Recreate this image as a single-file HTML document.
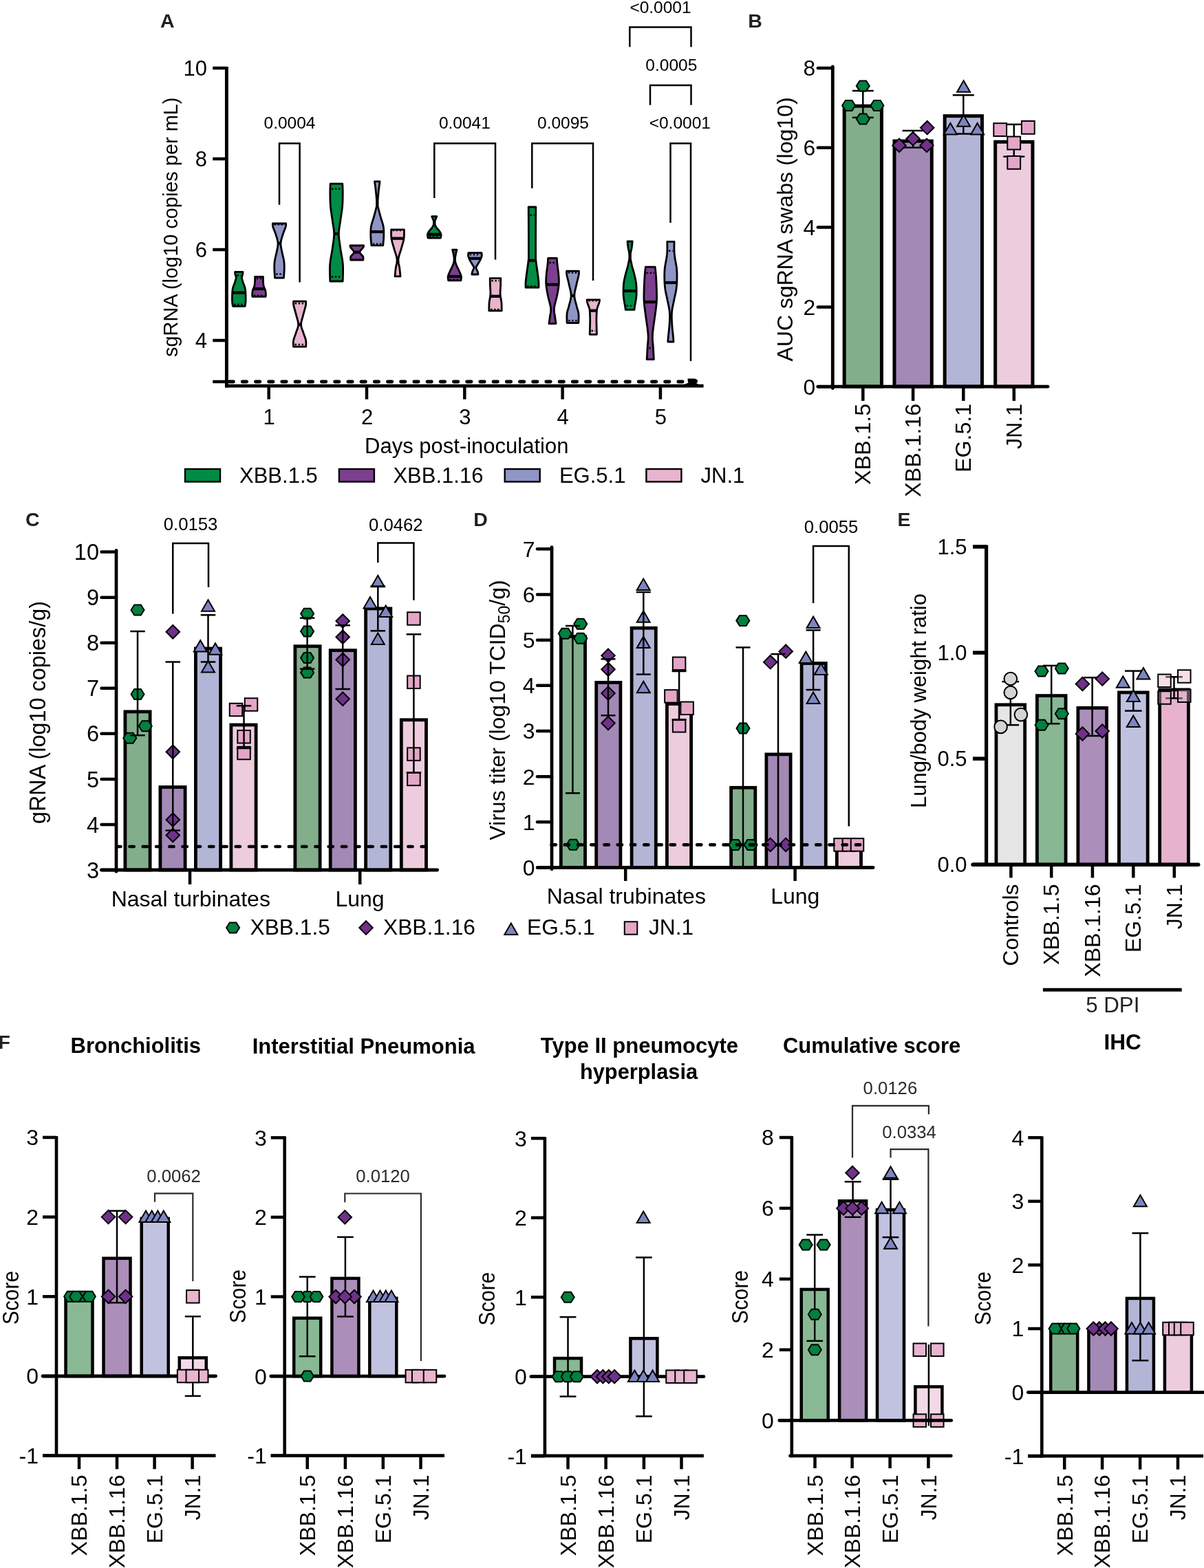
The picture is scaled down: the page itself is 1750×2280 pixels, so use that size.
<!DOCTYPE html>
<html><head><meta charset="utf-8"><title>Figure</title>
<style>html,body{margin:0;padding:0;background:#fff;} svg{display:block;} text{font-family:'Liberation Sans', Arial, Helvetica, sans-serif;}</style>
</head><body>
<svg width="1750" height="2280" viewBox="0 0 1750 2280">
<rect width="1750" height="2280" fill="#fff"/>
<text x="233" y="40" font-size="28.5" font-weight="bold" fill="#231f20">A</text>
<path d="M353,395.4 L352.98,395.67 L352.97,396.01 L352.95,396.42 L352.93,396.89 L352.89,397.39 L352.85,397.92 L352.78,398.46 L352.7,399 L352.57,399.54 L352.39,400.1 L352.18,400.68 L351.96,401.29 L351.76,401.92 L351.6,402.58 L351.51,403.27 L351.5,404 L351.59,404.78 L351.74,405.61 L351.96,406.48 L352.22,407.38 L352.51,408.29 L352.81,409.2 L353.11,410.11 L353.4,411 L353.69,411.88 L354.02,412.75 L354.36,413.62 L354.71,414.5 L355.05,415.38 L355.37,416.25 L355.66,417.12 L355.9,418 L356.1,418.83 L356.27,419.61 L356.42,420.36 L356.54,421.12 L356.65,421.94 L356.74,422.83 L356.82,423.84 L356.9,425 L356.97,426.38 L357.03,427.96 L357.09,429.69 L357.12,431.48 L357.15,433.28 L357.15,435.01 L357.14,436.61 L357.1,438 L357.03,439.24 L356.91,440.4 L356.77,441.48 L356.61,442.46 L356.45,443.35 L356.31,444.12 L356.19,444.78 L356.1,445.3 L338.5,445.3 L338.41,444.78 L338.29,444.12 L338.15,443.35 L337.99,442.46 L337.83,441.48 L337.69,440.4 L337.57,439.24 L337.5,438 L337.46,436.61 L337.45,435.01 L337.45,433.28 L337.48,431.48 L337.51,429.69 L337.57,427.96 L337.63,426.38 L337.7,425 L337.78,423.84 L337.86,422.83 L337.95,421.94 L338.06,421.12 L338.18,420.36 L338.33,419.61 L338.5,418.83 L338.7,418 L338.94,417.12 L339.23,416.25 L339.55,415.38 L339.89,414.5 L340.24,413.62 L340.58,412.75 L340.91,411.88 L341.2,411 L341.49,410.11 L341.79,409.2 L342.09,408.29 L342.38,407.38 L342.64,406.48 L342.86,405.61 L343.01,404.78 L343.1,404 L343.09,403.27 L343,402.58 L342.84,401.92 L342.64,401.29 L342.42,400.68 L342.21,400.1 L342.03,399.54 L341.9,399 L341.82,398.46 L341.75,397.92 L341.71,397.39 L341.68,396.89 L341.65,396.42 L341.63,396.01 L341.62,395.67 L341.6,395.4 Z" fill="#008c45" stroke="#000" stroke-width="2.8" stroke-linejoin="round"/>
<line x1="337.67" y1="425.6" x2="356.93" y2="425.6" stroke="#000" stroke-width="4.2"/>
<line x1="344.55" y1="400.5" x2="350.05" y2="400.5" stroke="#000" stroke-width="2.4" stroke-dasharray="2.4 2.6"/>
<line x1="340.23" y1="442.7" x2="354.37" y2="442.7" stroke="#000" stroke-width="2.4" stroke-dasharray="2.4 2.6"/>
<path d="M382.4,402.4 L382.4,403 L382.4,403.8 L382.4,404.76 L382.4,405.82 L382.41,406.93 L382.42,408.03 L382.45,409.07 L382.5,410 L382.56,410.83 L382.62,411.61 L382.68,412.37 L382.76,413.1 L382.86,413.82 L382.98,414.54 L383.12,415.26 L383.3,416 L383.53,416.75 L383.8,417.5 L384.12,418.25 L384.45,419 L384.78,419.75 L385.1,420.5 L385.37,421.25 L385.6,422 L385.78,422.77 L385.93,423.56 L386.06,424.37 L386.16,425.17 L386.25,425.95 L386.31,426.69 L386.36,427.38 L386.4,428 L386.41,428.56 L386.4,429.09 L386.35,429.58 L386.3,430.02 L386.24,430.42 L386.18,430.77 L386.13,431.06 L386.1,431.3 L366.9,431.3 L366.87,431.06 L366.82,430.77 L366.76,430.42 L366.7,430.02 L366.65,429.58 L366.6,429.09 L366.59,428.56 L366.6,428 L366.64,427.38 L366.69,426.69 L366.75,425.95 L366.84,425.17 L366.94,424.37 L367.07,423.56 L367.22,422.77 L367.4,422 L367.63,421.25 L367.9,420.5 L368.22,419.75 L368.55,419 L368.88,418.25 L369.2,417.5 L369.47,416.75 L369.7,416 L369.88,415.26 L370.02,414.54 L370.14,413.82 L370.24,413.1 L370.32,412.37 L370.38,411.61 L370.44,410.83 L370.5,410 L370.55,409.07 L370.58,408.03 L370.59,406.93 L370.6,405.82 L370.6,404.76 L370.6,403.8 L370.6,403 L370.6,402.4 Z" fill="#7b3f8e" stroke="#000" stroke-width="2.8" stroke-linejoin="round"/>
<line x1="368.11" y1="420" x2="384.89" y2="420" stroke="#000" stroke-width="4.2"/>
<line x1="372.8" y1="405" x2="380.2" y2="405" stroke="#000" stroke-width="2.4" stroke-dasharray="2.4 2.6"/>
<line x1="368.85" y1="429.6" x2="384.15" y2="429.6" stroke="#000" stroke-width="2.4" stroke-dasharray="2.4 2.6"/>
<path d="M415.6,325 L415.59,325.34 L415.61,325.76 L415.64,326.25 L415.66,326.81 L415.64,327.47 L415.57,328.21 L415.43,329.05 L415.2,330 L414.86,331.08 L414.41,332.29 L413.89,333.61 L413.32,335.01 L412.73,336.48 L412.14,337.98 L411.59,339.5 L411.1,341 L410.63,342.52 L410.14,344.09 L409.65,345.69 L409.18,347.33 L408.76,348.96 L408.41,350.6 L408.15,352.22 L408,353.8 L407.98,355.34 L408.08,356.85 L408.26,358.34 L408.52,359.83 L408.82,361.32 L409.15,362.84 L409.48,364.39 L409.8,366 L410.14,367.68 L410.53,369.42 L410.95,371.21 L411.39,373.01 L411.81,374.82 L412.2,376.6 L412.54,378.33 L412.8,380 L412.98,381.6 L413.11,383.14 L413.19,384.64 L413.24,386.12 L413.25,387.58 L413.25,389.04 L413.23,390.51 L413.2,392 L413.15,393.59 L413.07,395.3 L412.95,397.06 L412.82,398.8 L412.69,400.44 L412.57,401.92 L412.47,403.17 L412.4,404.1 L399.6,404.1 L399.53,403.17 L399.43,401.92 L399.31,400.44 L399.18,398.8 L399.05,397.06 L398.93,395.3 L398.85,393.59 L398.8,392 L398.77,390.51 L398.75,389.04 L398.75,387.58 L398.76,386.12 L398.81,384.64 L398.89,383.14 L399.02,381.6 L399.2,380 L399.46,378.33 L399.8,376.6 L400.19,374.82 L400.61,373.01 L401.05,371.21 L401.47,369.42 L401.86,367.68 L402.2,366 L402.52,364.39 L402.85,362.84 L403.18,361.32 L403.48,359.83 L403.74,358.34 L403.92,356.85 L404.02,355.34 L404,353.8 L403.85,352.22 L403.59,350.6 L403.24,348.96 L402.82,347.33 L402.35,345.69 L401.86,344.09 L401.37,342.52 L400.9,341 L400.41,339.5 L399.86,337.98 L399.27,336.48 L398.68,335.01 L398.11,333.61 L397.59,332.29 L397.14,331.08 L396.8,330 L396.57,329.05 L396.43,328.21 L396.36,327.47 L396.34,326.81 L396.36,326.25 L396.39,325.76 L396.41,325.34 L396.4,325 Z" fill="#8f95c5" stroke="#000" stroke-width="2.8" stroke-linejoin="round"/>
<line x1="404" y1="353.8" x2="408" y2="353.8" stroke="#000" stroke-width="4.2"/>
<line x1="398.55" y1="326.6" x2="413.45" y2="326.6" stroke="#000" stroke-width="2.4" stroke-dasharray="2.4 2.6"/>
<line x1="401.35" y1="398.5" x2="410.65" y2="398.5" stroke="#000" stroke-width="2.4" stroke-dasharray="2.4 2.6"/>
<path d="M444.5,438.1 L444.52,438.5 L444.57,438.97 L444.63,439.52 L444.68,440.17 L444.71,440.93 L444.68,441.82 L444.59,442.83 L444.4,444 L444.11,445.36 L443.71,446.93 L443.25,448.66 L442.74,450.5 L442.2,452.4 L441.67,454.32 L441.16,456.2 L440.7,458 L440.24,459.75 L439.73,461.52 L439.21,463.3 L438.71,465.07 L438.26,466.82 L437.9,468.55 L437.67,470.25 L437.6,471.9 L437.71,473.51 L437.99,475.08 L438.39,476.62 L438.88,478.13 L439.42,479.62 L439.98,481.09 L440.52,482.55 L441,484 L441.46,485.44 L441.97,486.87 L442.49,488.29 L443.01,489.69 L443.5,491.06 L443.94,492.41 L444.32,493.72 L444.6,495 L444.78,496.29 L444.87,497.62 L444.9,498.95 L444.88,500.24 L444.82,501.44 L444.76,502.51 L444.72,503.41 L444.7,504.1 L426.5,504.1 L426.48,503.41 L426.44,502.51 L426.38,501.44 L426.33,500.24 L426.3,498.95 L426.33,497.62 L426.42,496.29 L426.6,495 L426.88,493.72 L427.26,492.41 L427.7,491.06 L428.19,489.69 L428.71,488.29 L429.23,486.87 L429.74,485.44 L430.2,484 L430.68,482.55 L431.22,481.09 L431.78,479.62 L432.32,478.13 L432.81,476.62 L433.21,475.08 L433.49,473.51 L433.6,471.9 L433.53,470.25 L433.3,468.55 L432.94,466.82 L432.49,465.07 L431.99,463.3 L431.47,461.52 L430.96,459.75 L430.5,458 L430.04,456.2 L429.53,454.32 L429,452.4 L428.46,450.5 L427.95,448.66 L427.49,446.93 L427.09,445.36 L426.8,444 L426.61,442.83 L426.52,441.82 L426.49,440.93 L426.52,440.17 L426.57,439.52 L426.63,438.97 L426.68,438.5 L426.7,438.1 Z" fill="#e8b4d0" stroke="#000" stroke-width="2.8" stroke-linejoin="round"/>
<line x1="433.6" y1="471.9" x2="437.6" y2="471.9" stroke="#000" stroke-width="4.2"/>
<line x1="428.7" y1="441.2" x2="442.5" y2="441.2" stroke="#000" stroke-width="2.4" stroke-dasharray="2.4 2.6"/>
<line x1="428.56" y1="501" x2="442.64" y2="501" stroke="#000" stroke-width="2.4" stroke-dasharray="2.4 2.6"/>
<path d="M497.8,267.2 L497.84,268.14 L497.9,269.33 L497.96,270.75 L498.04,272.35 L498.11,274.11 L498.16,275.99 L498.2,277.97 L498.2,280 L498.19,282.14 L498.18,284.45 L498.15,286.88 L498.11,289.43 L498.04,292.04 L497.94,294.69 L497.8,297.36 L497.6,300 L497.33,302.68 L497,305.45 L496.62,308.28 L496.2,311.12 L495.77,313.96 L495.35,316.73 L494.95,319.43 L494.6,322 L494.26,324.43 L493.89,326.73 L493.52,328.96 L493.18,331.12 L492.87,333.28 L492.62,335.45 L492.46,337.68 L492.4,340 L492.45,342.37 L492.6,344.74 L492.83,347.13 L493.12,349.56 L493.46,352.05 L493.83,354.6 L494.22,357.25 L494.6,360 L495.03,362.89 L495.53,365.92 L496.08,369.05 L496.65,372.25 L497.2,375.48 L497.69,378.7 L498.11,381.89 L498.4,385 L498.57,388.21 L498.63,391.63 L498.61,395.13 L498.54,398.56 L498.44,401.8 L498.33,404.71 L498.24,407.16 L498.2,409 L479.8,409 L479.76,407.16 L479.67,404.71 L479.56,401.8 L479.46,398.56 L479.39,395.13 L479.37,391.63 L479.43,388.21 L479.6,385 L479.89,381.89 L480.31,378.7 L480.8,375.48 L481.35,372.25 L481.92,369.05 L482.47,365.92 L482.97,362.89 L483.4,360 L483.78,357.25 L484.17,354.6 L484.54,352.05 L484.88,349.56 L485.17,347.13 L485.4,344.74 L485.55,342.37 L485.6,340 L485.54,337.68 L485.38,335.45 L485.13,333.28 L484.82,331.12 L484.48,328.96 L484.11,326.73 L483.74,324.43 L483.4,322 L483.05,319.43 L482.65,316.73 L482.23,313.96 L481.8,311.12 L481.38,308.28 L481,305.45 L480.67,302.68 L480.4,300 L480.2,297.36 L480.06,294.69 L479.96,292.04 L479.89,289.43 L479.85,286.88 L479.82,284.45 L479.81,282.14 L479.8,280 L479.8,277.97 L479.84,275.99 L479.89,274.11 L479.96,272.35 L480.04,270.75 L480.1,269.33 L480.16,268.14 L480.2,267.2 Z" fill="#008c45" stroke="#000" stroke-width="2.8" stroke-linejoin="round"/>
<line x1="485.6" y1="340" x2="492.4" y2="340" stroke="#000" stroke-width="4.2"/>
<line x1="482.07" y1="274.8" x2="495.93" y2="274.8" stroke="#000" stroke-width="2.4" stroke-dasharray="2.4 2.6"/>
<line x1="481.79" y1="402.5" x2="496.21" y2="402.5" stroke="#000" stroke-width="2.4" stroke-dasharray="2.4 2.6"/>
<path d="M528.55,356.8 L528.52,357.02 L528.5,357.29 L528.48,357.61 L528.45,357.98 L528.38,358.4 L528.25,358.88 L528.05,359.41 L527.75,360 L527.28,360.67 L526.61,361.44 L525.83,362.27 L525.01,363.16 L524.24,364.06 L523.58,364.97 L523.13,365.86 L522.95,366.7 L523.11,367.51 L523.54,368.33 L524.18,369.14 L524.94,369.94 L525.73,370.74 L526.49,371.51 L527.12,372.27 L527.55,373 L527.79,373.74 L527.91,374.5 L527.96,375.26 L527.94,375.99 L527.88,376.68 L527.82,377.29 L527.76,377.81 L527.75,378.2 L509.75,378.2 L509.74,377.81 L509.68,377.29 L509.62,376.68 L509.56,375.99 L509.54,375.26 L509.59,374.5 L509.71,373.74 L509.95,373 L510.38,372.27 L511.01,371.51 L511.77,370.74 L512.56,369.94 L513.32,369.14 L513.96,368.33 L514.39,367.51 L514.55,366.7 L514.37,365.86 L513.92,364.97 L513.26,364.06 L512.49,363.16 L511.67,362.27 L510.89,361.44 L510.22,360.67 L509.75,360 L509.45,359.41 L509.25,358.88 L509.12,358.4 L509.05,357.98 L509.02,357.61 L509,357.29 L508.98,357.02 L508.95,356.8 Z" fill="#7b3f8e" stroke="#000" stroke-width="2.8" stroke-linejoin="round"/>
<line x1="514.55" y1="366.7" x2="522.95" y2="366.7" stroke="#000" stroke-width="4.2"/>
<line x1="511.21" y1="357.5" x2="526.29" y2="357.5" stroke="#000" stroke-width="2.4" stroke-dasharray="2.4 2.6"/>
<line x1="511.85" y1="377" x2="525.65" y2="377" stroke="#000" stroke-width="2.4" stroke-dasharray="2.4 2.6"/>
<path d="M552.1,263.9 L551.98,264.81 L551.81,265.98 L551.61,267.38 L551.39,268.95 L551.16,270.65 L550.92,272.42 L550.7,274.22 L550.5,276 L550.3,277.87 L550.1,279.91 L549.89,282.07 L549.69,284.26 L549.5,286.41 L549.33,288.47 L549.2,290.36 L549.1,292 L549.1,293.33 L549.1,294.4 L549.1,295.28 L549.1,296.06 L549.1,296.84 L549.1,297.7 L549.1,298.72 L549.3,300 L549.6,301.54 L549.99,303.26 L550.44,305.11 L550.95,307.06 L551.49,309.07 L552.04,311.09 L552.58,313.08 L553.1,315 L553.63,316.88 L554.21,318.75 L554.81,320.62 L555.41,322.5 L555.99,324.38 L556.51,326.25 L556.95,328.12 L557.3,330 L557.54,331.9 L557.7,333.82 L557.79,335.76 L557.82,337.69 L557.82,339.6 L557.79,341.47 L557.74,343.27 L557.7,345 L557.64,346.72 L557.52,348.47 L557.38,350.21 L557.22,351.89 L557.06,353.45 L556.91,354.83 L556.79,356 L556.7,356.9 L539.9,356.9 L539.81,356 L539.69,354.83 L539.54,353.45 L539.38,351.89 L539.22,350.21 L539.07,348.47 L538.96,346.72 L538.9,345 L538.86,343.27 L538.81,341.47 L538.78,339.6 L538.77,337.69 L538.81,335.76 L538.9,333.82 L539.06,331.9 L539.3,330 L539.65,328.12 L540.09,326.25 L540.61,324.38 L541.19,322.5 L541.79,320.62 L542.39,318.75 L542.97,316.88 L543.5,315 L544.02,313.08 L544.56,311.09 L545.11,309.07 L545.65,307.06 L546.16,305.11 L546.61,303.26 L547,301.54 L547.3,300 L547.5,298.72 L547.5,297.7 L547.5,296.84 L547.5,296.06 L547.5,295.28 L547.5,294.4 L547.5,293.33 L547.5,292 L547.4,290.36 L547.27,288.47 L547.1,286.41 L546.91,284.26 L546.71,282.07 L546.5,279.91 L546.3,277.87 L546.1,276 L545.9,274.22 L545.68,272.42 L545.44,270.65 L545.21,268.95 L544.99,267.38 L544.79,265.98 L544.62,264.81 L544.5,263.9 Z" fill="#8f95c5" stroke="#000" stroke-width="2.8" stroke-linejoin="round"/>
<line x1="538.79" y1="337" x2="557.81" y2="337" stroke="#000" stroke-width="4.2"/>
<line x1="541.86" y1="354.6" x2="554.74" y2="354.6" stroke="#000" stroke-width="2.4" stroke-dasharray="2.4 2.6"/>
<path d="M587.4,333.9 L587.39,334.9 L587.4,336.23 L587.42,337.81 L587.42,339.57 L587.4,341.45 L587.33,343.35 L587.21,345.23 L587,347 L586.71,348.69 L586.34,350.39 L585.92,352.1 L585.45,353.82 L584.95,355.56 L584.43,357.34 L583.91,359.15 L583.4,361 L582.85,362.92 L582.21,364.93 L581.54,366.99 L580.86,369.06 L580.23,371.13 L579.68,373.16 L579.26,375.13 L579,377 L578.93,378.78 L579.03,380.49 L579.25,382.14 L579.55,383.76 L579.9,385.34 L580.25,386.9 L580.56,388.45 L580.8,390 L580.99,391.62 L581.17,393.33 L581.35,395.07 L581.51,396.76 L581.66,398.36 L581.8,399.79 L581.91,400.99 L582,401.9 L574,401.9 L574.09,400.99 L574.2,399.79 L574.34,398.36 L574.49,396.76 L574.65,395.07 L574.83,393.33 L575.01,391.62 L575.2,390 L575.44,388.45 L575.75,386.9 L576.1,385.34 L576.45,383.76 L576.75,382.14 L576.97,380.49 L577.07,378.78 L577,377 L576.74,375.13 L576.32,373.16 L575.77,371.13 L575.14,369.06 L574.46,366.99 L573.79,364.93 L573.15,362.92 L572.6,361 L572.09,359.15 L571.57,357.34 L571.05,355.56 L570.55,353.82 L570.08,352.1 L569.66,350.39 L569.29,348.69 L569,347 L568.79,345.23 L568.67,343.35 L568.6,341.45 L568.58,339.57 L568.58,337.81 L568.6,336.23 L568.61,334.9 L568.6,333.9 Z" fill="#e8b4d0" stroke="#000" stroke-width="2.8" stroke-linejoin="round"/>
<line x1="568.97" y1="346.7" x2="587.03" y2="346.7" stroke="#000" stroke-width="4.2"/>
<line x1="570.81" y1="335" x2="585.19" y2="335" stroke="#000" stroke-width="2.4" stroke-dasharray="2.4 2.6"/>
<path d="M634.85,314.7 L634.71,315.03 L634.52,315.46 L634.3,315.97 L634.05,316.54 L633.79,317.15 L633.53,317.77 L633.28,318.4 L633.05,319 L632.81,319.58 L632.54,320.18 L632.26,320.78 L632.05,321.39 L632.05,322.02 L632.05,322.66 L632.05,323.32 L632.05,324 L632.05,324.7 L632.05,325.43 L632.05,326.18 L632.25,326.94 L632.6,327.71 L632.99,328.48 L633.41,329.24 L633.85,330 L634.35,330.76 L634.94,331.52 L635.58,332.29 L636.25,333.06 L636.92,333.82 L637.56,334.57 L638.15,335.3 L638.65,336 L639.09,336.67 L639.49,337.32 L639.86,337.94 L640.19,338.56 L640.48,339.16 L640.72,339.77 L640.91,340.38 L641.05,341 L641.11,341.67 L641.1,342.39 L641.02,343.13 L640.9,343.86 L640.76,344.56 L640.63,345.18 L640.52,345.71 L640.45,346.1 L622.05,346.1 L621.98,345.71 L621.87,345.18 L621.74,344.56 L621.6,343.86 L621.48,343.13 L621.4,342.39 L621.39,341.67 L621.45,341 L621.59,340.38 L621.78,339.77 L622.02,339.16 L622.31,338.56 L622.64,337.94 L623.01,337.32 L623.41,336.67 L623.85,336 L624.35,335.3 L624.94,334.57 L625.58,333.82 L626.25,333.06 L626.92,332.29 L627.56,331.52 L628.15,330.76 L628.65,330 L629.09,329.24 L629.51,328.48 L629.9,327.71 L630.25,326.94 L630.45,326.18 L630.45,325.43 L630.45,324.7 L630.45,324 L630.45,323.32 L630.45,322.66 L630.45,322.02 L630.45,321.39 L630.24,320.78 L629.96,320.18 L629.69,319.58 L629.45,319 L629.22,318.4 L628.97,317.77 L628.71,317.15 L628.45,316.54 L628.2,315.97 L627.98,315.46 L627.79,315.03 L627.65,314.7 Z" fill="#008c45" stroke="#000" stroke-width="2.8" stroke-linejoin="round"/>
<line x1="621.49" y1="340.8" x2="641.01" y2="340.8" stroke="#000" stroke-width="4.2"/>
<line x1="623.83" y1="344" x2="638.67" y2="344" stroke="#000" stroke-width="2.4" stroke-dasharray="2.4 2.6"/>
<path d="M664,363.1 L663.87,363.62 L663.7,364.31 L663.49,365.13 L663.26,366.05 L663.03,367.03 L662.8,368.04 L662.58,369.04 L662.4,370 L662.22,370.95 L662.03,371.92 L661.84,372.92 L661.66,373.93 L661.6,374.95 L661.6,375.97 L661.6,376.99 L661.6,378 L661.6,378.99 L661.68,379.98 L661.9,380.96 L662.17,381.94 L662.49,382.93 L662.83,383.93 L663.21,384.95 L663.6,386 L664.04,387.09 L664.55,388.23 L665.1,389.39 L665.67,390.56 L666.25,391.73 L666.82,392.87 L667.34,393.96 L667.8,395 L668.22,395.98 L668.64,396.92 L669.03,397.82 L669.39,398.7 L669.72,399.55 L670.01,400.38 L670.23,401.2 L670.4,402 L670.48,402.82 L670.48,403.67 L670.42,404.52 L670.31,405.34 L670.19,406.1 L670.06,406.79 L669.96,407.36 L669.9,407.8 L651.7,407.8 L651.64,407.36 L651.54,406.79 L651.41,406.1 L651.29,405.34 L651.18,404.52 L651.12,403.67 L651.12,402.82 L651.2,402 L651.37,401.2 L651.59,400.38 L651.88,399.55 L652.21,398.7 L652.57,397.82 L652.96,396.92 L653.38,395.98 L653.8,395 L654.26,393.96 L654.78,392.87 L655.35,391.73 L655.92,390.56 L656.5,389.39 L657.05,388.23 L657.56,387.09 L658,386 L658.39,384.95 L658.77,383.93 L659.11,382.93 L659.42,381.94 L659.7,380.96 L659.92,379.98 L660,378.99 L660,378 L660,376.99 L660,375.97 L660,374.95 L659.94,373.93 L659.76,372.92 L659.57,371.92 L659.38,370.95 L659.2,370 L659.02,369.04 L658.8,368.04 L658.57,367.03 L658.34,366.05 L658.11,365.13 L657.9,364.31 L657.73,363.62 L657.6,363.1 Z" fill="#7b3f8e" stroke="#000" stroke-width="2.8" stroke-linejoin="round"/>
<line x1="651.2" y1="402" x2="670.4" y2="402" stroke="#000" stroke-width="4.2"/>
<line x1="653.72" y1="406.7" x2="667.88" y2="406.7" stroke="#000" stroke-width="2.4" stroke-dasharray="2.4 2.6"/>
<path d="M700,367.65 L700.03,367.97 L700.09,368.39 L700.17,368.89 L700.24,369.45 L700.29,370.06 L700.31,370.69 L700.29,371.35 L700.2,372 L700.05,372.66 L699.86,373.36 L699.63,374.09 L699.36,374.83 L699.06,375.6 L698.73,376.39 L698.38,377.19 L698,378 L697.57,378.85 L697.08,379.75 L696.54,380.68 L695.99,381.62 L695.43,382.55 L694.9,383.44 L694.42,384.26 L694,385 L693.63,385.63 L693.26,386.16 L692.92,386.63 L692.61,387.06 L692.35,387.49 L692.16,387.93 L692.04,388.42 L692,389 L692.08,389.67 L692.29,390.41 L692.58,391.19 L692.92,392 L693.29,392.81 L693.65,393.59 L693.96,394.33 L694.2,395 L694.37,395.62 L694.52,396.23 L694.64,396.82 L694.74,397.38 L694.82,397.88 L694.89,398.33 L694.95,398.71 L695,399 L685.8,399 L685.85,398.71 L685.91,398.33 L685.98,397.88 L686.06,397.38 L686.16,396.82 L686.28,396.23 L686.43,395.62 L686.6,395 L686.84,394.33 L687.15,393.59 L687.51,392.81 L687.88,392 L688.22,391.19 L688.51,390.41 L688.72,389.67 L688.8,389 L688.76,388.42 L688.64,387.93 L688.45,387.49 L688.19,387.06 L687.88,386.63 L687.54,386.16 L687.17,385.63 L686.8,385 L686.38,384.26 L685.9,383.44 L685.37,382.55 L684.81,381.62 L684.26,380.68 L683.72,379.75 L683.23,378.85 L682.8,378 L682.42,377.19 L682.07,376.39 L681.74,375.6 L681.44,374.83 L681.17,374.09 L680.94,373.36 L680.75,372.66 L680.6,372 L680.51,371.35 L680.49,370.69 L680.51,370.06 L680.56,369.45 L680.63,368.89 L680.71,368.39 L680.77,367.97 L680.8,367.65 Z" fill="#8f95c5" stroke="#000" stroke-width="2.8" stroke-linejoin="round"/>
<line x1="681.82" y1="375.8" x2="698.98" y2="375.8" stroke="#000" stroke-width="4.2"/>
<line x1="682.7" y1="370.4" x2="698.1" y2="370.4" stroke="#000" stroke-width="2.4" stroke-dasharray="2.4 2.6"/>
<path d="M727.8,404.7 L727.79,405.5 L727.77,406.56 L727.75,407.82 L727.73,409.22 L727.71,410.71 L727.68,412.2 L727.64,413.66 L727.6,415 L727.55,416.29 L727.48,417.62 L727.4,418.96 L727.32,420.28 L727.24,421.57 L727.18,422.8 L727.13,423.95 L727.1,425 L727.09,425.9 L727.09,426.67 L727.1,427.33 L727.12,427.95 L727.16,428.56 L727.22,429.21 L727.3,429.94 L727.4,430.8 L727.54,431.77 L727.72,432.8 L727.93,433.88 L728.15,435.02 L728.37,436.2 L728.58,437.43 L728.76,438.7 L728.9,440 L729,441.44 L729.07,443.06 L729.11,444.79 L729.14,446.52 L729.16,448.19 L729.17,449.7 L729.19,450.96 L729.2,451.9 L710.8,451.9 L710.81,450.96 L710.83,449.7 L710.84,448.19 L710.86,446.52 L710.89,444.79 L710.93,443.06 L711,441.44 L711.1,440 L711.24,438.7 L711.42,437.43 L711.63,436.2 L711.85,435.02 L712.07,433.88 L712.28,432.8 L712.46,431.77 L712.6,430.8 L712.7,429.94 L712.78,429.21 L712.84,428.56 L712.88,427.95 L712.9,427.33 L712.91,426.67 L712.91,425.9 L712.9,425 L712.87,423.95 L712.82,422.8 L712.76,421.57 L712.68,420.28 L712.6,418.96 L712.52,417.62 L712.45,416.29 L712.4,415 L712.36,413.66 L712.32,412.2 L712.29,410.71 L712.27,409.22 L712.25,407.82 L712.23,406.56 L712.21,405.5 L712.2,404.7 Z" fill="#e8b4d0" stroke="#000" stroke-width="2.8" stroke-linejoin="round"/>
<line x1="712.6" y1="430.8" x2="727.4" y2="430.8" stroke="#000" stroke-width="4.2"/>
<line x1="714.45" y1="408.3" x2="725.55" y2="408.3" stroke="#000" stroke-width="2.4" stroke-dasharray="2.4 2.6"/>
<line x1="713.02" y1="450" x2="726.98" y2="450" stroke="#000" stroke-width="2.4" stroke-dasharray="2.4 2.6"/>
<path d="M778.8,301 L778.78,304.07 L778.76,308.22 L778.73,313.16 L778.7,318.62 L778.67,324.32 L778.64,329.97 L778.62,335.29 L778.6,340 L778.59,344.33 L778.58,348.63 L778.57,352.84 L778.57,356.89 L778.57,360.7 L778.57,364.2 L778.58,367.33 L778.6,370 L778.61,372.06 L778.61,373.52 L778.61,374.53 L778.61,375.26 L778.64,375.89 L778.68,376.58 L778.77,377.49 L778.9,378.8 L779.09,380.48 L779.33,382.36 L779.6,384.39 L779.91,386.51 L780.22,388.69 L780.53,390.86 L780.83,392.98 L781.1,395 L781.36,396.98 L781.62,398.99 L781.88,401.01 L782.14,403 L782.37,404.93 L782.59,406.76 L782.76,408.46 L782.9,410 L782.99,411.41 L783.03,412.72 L783.03,413.93 L783.01,415.04 L782.98,416.02 L782.94,416.89 L782.91,417.61 L782.9,418.2 L764.1,418.2 L764.09,417.61 L764.06,416.89 L764.02,416.02 L763.99,415.04 L763.97,413.93 L763.97,412.72 L764.01,411.41 L764.1,410 L764.24,408.46 L764.41,406.76 L764.63,404.93 L764.86,403 L765.12,401.01 L765.38,398.99 L765.64,396.98 L765.9,395 L766.17,392.98 L766.47,390.86 L766.78,388.69 L767.09,386.51 L767.4,384.39 L767.67,382.36 L767.91,380.48 L768.1,378.8 L768.23,377.49 L768.32,376.58 L768.36,375.89 L768.39,375.26 L768.39,374.53 L768.39,373.52 L768.39,372.06 L768.4,370 L768.42,367.33 L768.43,364.2 L768.43,360.7 L768.43,356.89 L768.43,352.84 L768.42,348.63 L768.41,344.33 L768.4,340 L768.38,335.29 L768.36,329.97 L768.33,324.32 L768.3,318.62 L768.27,313.16 L768.24,308.22 L768.22,304.07 L768.2,301 Z" fill="#008c45" stroke="#000" stroke-width="2.8" stroke-linejoin="round"/>
<line x1="768.1" y1="378.8" x2="778.9" y2="378.8" stroke="#000" stroke-width="4.2"/>
<line x1="770.47" y1="312.7" x2="776.53" y2="312.7" stroke="#000" stroke-width="2.4" stroke-dasharray="2.4 2.6"/>
<line x1="766.23" y1="416.2" x2="780.77" y2="416.2" stroke="#000" stroke-width="2.4" stroke-dasharray="2.4 2.6"/>
<path d="M809.3,375.4 L809.36,376.19 L809.44,377.22 L809.54,378.45 L809.64,379.82 L809.76,381.31 L809.9,382.86 L810.04,384.44 L810.2,386 L810.38,387.59 L810.6,389.27 L810.84,391.01 L811.09,392.8 L811.33,394.62 L811.55,396.43 L811.75,398.24 L811.9,400 L812.02,401.72 L812.14,403.41 L812.24,405.08 L812.32,406.76 L812.36,408.46 L812.36,410.19 L812.31,411.96 L812.2,413.8 L812.02,415.7 L811.79,417.63 L811.51,419.61 L811.18,421.62 L810.82,423.67 L810.43,425.75 L810.02,427.86 L809.6,430 L809.11,432.23 L808.54,434.58 L807.9,437 L807.26,439.43 L806.65,441.83 L806.11,444.14 L805.68,446.31 L805.4,448.3 L805.29,450.09 L805.31,451.72 L805.44,453.22 L805.64,454.64 L805.89,455.99 L806.15,457.31 L806.4,458.64 L806.6,460 L806.78,461.44 L806.99,462.96 L807.21,464.49 L807.42,465.98 L807.63,467.38 L807.82,468.64 L807.98,469.7 L808.1,470.5 L797.9,470.5 L798.02,469.7 L798.18,468.64 L798.37,467.38 L798.58,465.98 L798.79,464.49 L799.01,462.96 L799.22,461.44 L799.4,460 L799.6,458.64 L799.85,457.31 L800.11,455.99 L800.36,454.64 L800.56,453.22 L800.69,451.72 L800.71,450.09 L800.6,448.3 L800.32,446.31 L799.89,444.14 L799.35,441.83 L798.74,439.43 L798.1,437 L797.46,434.58 L796.89,432.23 L796.4,430 L795.98,427.86 L795.57,425.75 L795.18,423.67 L794.82,421.62 L794.49,419.61 L794.21,417.63 L793.98,415.7 L793.8,413.8 L793.69,411.96 L793.64,410.19 L793.64,408.46 L793.68,406.76 L793.76,405.08 L793.86,403.41 L793.98,401.72 L794.1,400 L794.25,398.24 L794.45,396.43 L794.67,394.62 L794.91,392.8 L795.16,391.01 L795.4,389.27 L795.62,387.59 L795.8,386 L795.96,384.44 L796.1,382.86 L796.24,381.31 L796.36,379.82 L796.46,378.45 L796.56,377.22 L796.64,376.19 L796.7,375.4 Z" fill="#7b3f8e" stroke="#000" stroke-width="2.8" stroke-linejoin="round"/>
<line x1="793.8" y1="413.8" x2="812.2" y2="413.8" stroke="#000" stroke-width="4.2"/>
<line x1="798.38" y1="382" x2="807.62" y2="382" stroke="#000" stroke-width="2.4" stroke-dasharray="2.4 2.6"/>
<path d="M841.4,394.1 L841.4,394.49 L841.42,394.95 L841.45,395.48 L841.47,396.11 L841.46,396.86 L841.41,397.75 L841.29,398.79 L841.1,400 L840.81,401.44 L840.43,403.11 L839.99,404.96 L839.5,406.93 L838.99,408.98 L838.49,411.04 L838.02,413.06 L837.6,415 L837.18,416.88 L836.73,418.75 L836.27,420.62 L835.83,422.5 L835.45,424.38 L835.14,426.25 L834.95,428.12 L834.9,430 L835.02,431.9 L835.29,433.84 L835.69,435.8 L836.16,437.75 L836.67,439.67 L837.19,441.53 L837.68,443.32 L838.1,445 L838.49,446.55 L838.89,447.97 L839.3,449.31 L839.7,450.59 L840.07,451.87 L840.41,453.17 L840.69,454.53 L840.9,456 L841.03,457.66 L841.1,459.52 L841.11,461.47 L841.08,463.44 L841.02,465.32 L840.97,467.02 L840.92,468.44 L840.9,469.5 L824.1,469.5 L824.08,468.44 L824.03,467.02 L823.98,465.32 L823.92,463.44 L823.89,461.47 L823.9,459.52 L823.97,457.66 L824.1,456 L824.31,454.53 L824.59,453.17 L824.93,451.87 L825.3,450.59 L825.7,449.31 L826.11,447.97 L826.51,446.55 L826.9,445 L827.32,443.32 L827.81,441.53 L828.33,439.67 L828.84,437.75 L829.31,435.8 L829.71,433.84 L829.98,431.9 L830.1,430 L830.05,428.12 L829.86,426.25 L829.55,424.38 L829.17,422.5 L828.73,420.62 L828.27,418.75 L827.82,416.88 L827.4,415 L826.98,413.06 L826.51,411.04 L826.01,408.98 L825.5,406.93 L825.01,404.96 L824.57,403.11 L824.19,401.44 L823.9,400 L823.71,398.79 L823.59,397.75 L823.54,396.86 L823.53,396.11 L823.55,395.48 L823.58,394.95 L823.6,394.49 L823.6,394.1 Z" fill="#8f95c5" stroke="#000" stroke-width="2.8" stroke-linejoin="round"/>
<line x1="830.1" y1="430" x2="834.9" y2="430" stroke="#000" stroke-width="4.2"/>
<line x1="825.74" y1="396.5" x2="839.26" y2="396.5" stroke="#000" stroke-width="2.4" stroke-dasharray="2.4 2.6"/>
<line x1="826.2" y1="466.1" x2="838.8" y2="466.1" stroke="#000" stroke-width="2.4" stroke-dasharray="2.4 2.6"/>
<path d="M871.5,435.8 L871.47,436.1 L871.44,436.49 L871.4,436.94 L871.36,437.46 L871.29,438.04 L871.2,438.65 L871.07,439.31 L870.9,440 L870.67,440.76 L870.37,441.61 L870.04,442.52 L869.67,443.47 L869.31,444.42 L868.96,445.35 L868.65,446.22 L868.4,447 L868.2,447.64 L868.03,448.14 L867.89,448.55 L867.77,448.96 L867.67,449.41 L867.58,449.97 L867.49,450.72 L867.4,451.7 L867.31,452.97 L867.22,454.5 L867.15,456.2 L867.07,458.02 L867.01,459.88 L866.96,461.71 L866.93,463.44 L866.9,465 L866.89,466.4 L866.9,467.7 L866.92,468.93 L866.95,470.12 L866.99,471.3 L867.03,472.49 L867.07,473.71 L867.1,475 L867.13,476.43 L867.17,478 L867.22,479.64 L867.26,481.27 L867.31,482.83 L867.34,484.24 L867.38,485.42 L867.4,486.3 L857.2,486.3 L857.22,485.42 L857.26,484.24 L857.29,482.83 L857.34,481.27 L857.38,479.64 L857.42,478 L857.47,476.43 L857.5,475 L857.53,473.71 L857.57,472.49 L857.61,471.3 L857.65,470.12 L857.68,468.93 L857.7,467.7 L857.71,466.4 L857.7,465 L857.67,463.44 L857.64,461.71 L857.59,459.88 L857.52,458.02 L857.45,456.2 L857.38,454.5 L857.29,452.97 L857.2,451.7 L857.11,450.72 L857.02,449.97 L856.93,449.41 L856.82,448.96 L856.71,448.55 L856.57,448.14 L856.4,447.64 L856.2,447 L855.95,446.22 L855.64,445.35 L855.29,444.42 L854.92,443.47 L854.56,442.52 L854.23,441.61 L853.93,440.76 L853.7,440 L853.53,439.31 L853.4,438.65 L853.31,438.04 L853.24,437.46 L853.2,436.94 L853.16,436.49 L853.13,436.1 L853.1,435.8 Z" fill="#e8b4d0" stroke="#000" stroke-width="2.8" stroke-linejoin="round"/>
<line x1="857.2" y1="451.7" x2="867.4" y2="451.7" stroke="#000" stroke-width="4.2"/>
<line x1="855.43" y1="437.3" x2="869.17" y2="437.3" stroke="#000" stroke-width="2.4" stroke-dasharray="2.4 2.6"/>
<line x1="859.54" y1="481" x2="865.06" y2="481" stroke="#000" stroke-width="2.4" stroke-dasharray="2.4 2.6"/>
<path d="M919.2,351 L919.13,351.67 L919.04,352.55 L918.94,353.58 L918.83,354.75 L918.69,356.01 L918.54,357.33 L918.38,358.67 L918.2,360 L917.97,361.35 L917.68,362.77 L917.35,364.24 L917.01,365.75 L916.7,367.29 L916.44,368.86 L916.4,370.43 L916.4,372 L916.4,373.56 L916.4,375.13 L916.57,376.71 L916.83,378.31 L917.13,379.93 L917.47,381.59 L917.83,383.27 L918.2,385 L918.61,386.79 L919.09,388.66 L919.62,390.57 L920.17,392.5 L920.72,394.43 L921.26,396.34 L921.76,398.21 L922.2,400 L922.6,401.69 L922.98,403.3 L923.34,404.85 L923.68,406.38 L923.99,407.92 L924.26,409.52 L924.5,411.2 L924.7,413 L924.86,414.95 L924.99,417.02 L925.09,419.17 L925.15,421.38 L925.17,423.6 L925.16,425.8 L925.1,427.94 L925,430 L924.83,432.04 L924.57,434.12 L924.26,436.2 L923.91,438.23 L923.56,440.17 L923.22,441.98 L922.93,443.6 L922.7,445 L922.53,446.16 L922.4,447.13 L922.29,447.93 L922.21,448.59 L922.14,449.13 L922.09,449.57 L922.04,449.96 L922,450.3 L909.2,450.3 L909.16,449.96 L909.11,449.57 L909.06,449.13 L908.99,448.59 L908.91,447.93 L908.8,447.13 L908.67,446.16 L908.5,445 L908.27,443.6 L907.98,441.98 L907.64,440.17 L907.29,438.23 L906.94,436.2 L906.63,434.12 L906.37,432.04 L906.2,430 L906.1,427.94 L906.04,425.8 L906.03,423.6 L906.05,421.38 L906.11,419.17 L906.21,417.02 L906.34,414.95 L906.5,413 L906.7,411.2 L906.94,409.52 L907.21,407.92 L907.52,406.38 L907.86,404.85 L908.22,403.3 L908.6,401.69 L909,400 L909.44,398.21 L909.94,396.34 L910.48,394.43 L911.03,392.5 L911.58,390.57 L912.11,388.66 L912.59,386.79 L913,385 L913.37,383.27 L913.73,381.59 L914.07,379.93 L914.38,378.31 L914.63,376.71 L914.8,375.13 L914.8,373.56 L914.8,372 L914.8,370.43 L914.76,368.86 L914.5,367.29 L914.19,365.75 L913.85,364.24 L913.52,362.77 L913.23,361.35 L913,360 L912.82,358.67 L912.66,357.33 L912.51,356.01 L912.38,354.75 L912.26,353.58 L912.16,352.55 L912.07,351.67 L912,351 Z" fill="#008c45" stroke="#000" stroke-width="2.8" stroke-linejoin="round"/>
<line x1="906.03" y1="423" x2="925.17" y2="423" stroke="#000" stroke-width="4.2"/>
<line x1="910.63" y1="444.6" x2="920.57" y2="444.6" stroke="#000" stroke-width="2.4" stroke-dasharray="2.4 2.6"/>
<path d="M952.15,388.2 L952.24,389.05 L952.37,390.13 L952.52,391.4 L952.69,392.85 L952.86,394.46 L953.04,396.2 L953.2,398.05 L953.35,400 L953.49,402.11 L953.64,404.44 L953.78,406.94 L953.92,409.54 L954.06,412.21 L954.17,414.87 L954.27,417.49 L954.35,420 L954.41,422.42 L954.48,424.8 L954.53,427.15 L954.57,429.49 L954.58,431.85 L954.55,434.22 L954.48,436.63 L954.35,439.1 L954.16,441.65 L953.9,444.27 L953.6,446.93 L953.26,449.62 L952.9,452.3 L952.53,454.94 L952.18,457.51 L951.85,460 L951.53,462.42 L951.19,464.82 L950.85,467.19 L950.51,469.5 L950.18,471.75 L949.87,473.93 L949.59,476.01 L949.35,478 L949.14,479.85 L948.95,481.56 L948.78,483.16 L948.63,484.69 L948.51,486.2 L948.42,487.71 L948.37,489.26 L948.35,490.9 L948.38,492.58 L948.46,494.26 L948.58,495.95 L948.73,497.66 L948.89,499.4 L949.05,501.2 L949.21,503.06 L949.35,505 L949.48,507.15 L949.62,509.57 L949.77,512.12 L949.91,514.68 L950.05,517.14 L950.17,519.36 L950.27,521.22 L950.35,522.6 L940.15,522.6 L940.23,521.22 L940.33,519.36 L940.45,517.14 L940.59,514.68 L940.73,512.12 L940.88,509.57 L941.02,507.15 L941.15,505 L941.29,503.06 L941.45,501.2 L941.61,499.4 L941.77,497.66 L941.92,495.95 L942.04,494.26 L942.12,492.58 L942.15,490.9 L942.13,489.26 L942.08,487.71 L941.99,486.2 L941.87,484.69 L941.72,483.16 L941.55,481.56 L941.36,479.85 L941.15,478 L940.91,476.01 L940.63,473.93 L940.32,471.75 L939.99,469.5 L939.65,467.19 L939.31,464.82 L938.97,462.42 L938.65,460 L938.32,457.51 L937.97,454.94 L937.6,452.3 L937.24,449.62 L936.9,446.93 L936.6,444.27 L936.34,441.65 L936.15,439.1 L936.02,436.63 L935.95,434.22 L935.92,431.85 L935.93,429.49 L935.97,427.15 L936.02,424.8 L936.09,422.42 L936.15,420 L936.23,417.49 L936.33,414.87 L936.44,412.21 L936.58,409.54 L936.72,406.94 L936.86,404.44 L937.01,402.11 L937.15,400 L937.3,398.05 L937.46,396.2 L937.64,394.46 L937.81,392.85 L937.98,391.4 L938.13,390.13 L938.26,389.05 L938.35,388.2 Z" fill="#7b3f8e" stroke="#000" stroke-width="2.8" stroke-linejoin="round"/>
<line x1="936.15" y1="439.1" x2="954.35" y2="439.1" stroke="#000" stroke-width="4.2"/>
<line x1="939.6" y1="396.9" x2="950.9" y2="396.9" stroke="#000" stroke-width="2.4" stroke-dasharray="2.4 2.6"/>
<line x1="943.29" y1="506" x2="947.21" y2="506" stroke="#000" stroke-width="2.4" stroke-dasharray="2.4 2.6"/>
<path d="M980,351.4 L979.99,352.47 L979.98,353.93 L979.96,355.66 L979.94,357.57 L979.93,359.57 L979.93,361.53 L979.95,363.38 L980,365 L980.07,366.39 L980.14,367.64 L980.24,368.79 L980.34,369.91 L980.47,371.04 L980.62,372.23 L980.8,373.54 L981,375 L981.25,376.64 L981.57,378.4 L981.92,380.26 L982.28,382.19 L982.64,384.16 L982.98,386.13 L983.27,388.09 L983.5,390 L983.67,391.88 L983.8,393.75 L983.9,395.62 L983.97,397.5 L984.01,399.38 L984.03,401.25 L984.02,403.12 L984,405 L983.96,406.88 L983.9,408.75 L983.82,410.62 L983.72,412.5 L983.59,414.38 L983.43,416.25 L983.23,418.12 L983,420 L982.72,421.88 L982.39,423.75 L982.02,425.62 L981.62,427.5 L981.21,429.38 L980.8,431.25 L980.39,433.12 L980,435 L979.61,436.9 L979.2,438.85 L978.77,440.81 L978.36,442.77 L977.96,444.69 L977.59,446.55 L977.26,448.33 L977,450 L976.79,451.52 L976.63,452.89 L976.51,454.17 L976.42,455.39 L976.36,456.61 L976.32,457.87 L976.3,459.22 L976.3,460.7 L976.32,462.31 L976.36,464.01 L976.42,465.77 L976.51,467.58 L976.62,469.43 L976.74,471.29 L976.86,473.15 L977,475 L977.16,476.9 L977.34,478.89 L977.55,480.93 L977.76,482.96 L977.98,484.93 L978.18,486.8 L978.35,488.5 L978.5,490 L978.61,491.31 L978.71,492.48 L978.78,493.52 L978.84,494.44 L978.89,495.24 L978.93,495.93 L978.97,496.51 L979,497 L970.8,497 L970.83,496.51 L970.87,495.93 L970.91,495.24 L970.96,494.44 L971.02,493.52 L971.09,492.48 L971.19,491.31 L971.3,490 L971.45,488.5 L971.62,486.8 L971.82,484.93 L972.04,482.96 L972.25,480.93 L972.46,478.89 L972.64,476.9 L972.8,475 L972.94,473.15 L973.06,471.29 L973.18,469.43 L973.29,467.58 L973.38,465.77 L973.44,464.01 L973.48,462.31 L973.5,460.7 L973.5,459.22 L973.48,457.87 L973.44,456.61 L973.38,455.39 L973.29,454.17 L973.17,452.89 L973.01,451.52 L972.8,450 L972.54,448.33 L972.21,446.55 L971.84,444.69 L971.44,442.77 L971.03,440.81 L970.6,438.85 L970.19,436.9 L969.8,435 L969.41,433.12 L969,431.25 L968.59,429.38 L968.17,427.5 L967.78,425.62 L967.41,423.75 L967.08,421.88 L966.8,420 L966.57,418.12 L966.37,416.25 L966.21,414.38 L966.08,412.5 L965.98,410.62 L965.9,408.75 L965.84,406.88 L965.8,405 L965.78,403.12 L965.77,401.25 L965.79,399.38 L965.83,397.5 L965.9,395.62 L966,393.75 L966.13,391.88 L966.3,390 L966.53,388.09 L966.82,386.13 L967.16,384.16 L967.52,382.19 L967.88,380.26 L968.23,378.4 L968.55,376.64 L968.8,375 L969,373.54 L969.18,372.23 L969.33,371.04 L969.46,369.91 L969.56,368.79 L969.66,367.64 L969.73,366.39 L969.8,365 L969.85,363.38 L969.87,361.53 L969.87,359.57 L969.86,357.57 L969.84,355.66 L969.82,353.93 L969.81,352.47 L969.8,351.4 Z" fill="#8f95c5" stroke="#000" stroke-width="2.8" stroke-linejoin="round"/>
<line x1="966" y1="411" x2="983.8" y2="411" stroke="#000" stroke-width="4.2"/>
<line x1="972.01" y1="364.7" x2="977.79" y2="364.7" stroke="#000" stroke-width="2.4" stroke-dasharray="2.4 2.6"/>
<path d="M999.6,550.4 L1009,550.4 Q1014.3,551.3 1014.2,554.6 Q1013.8,556.8 1012,557.2 Q1014.5,558.2 1016,559.6 L993,559.6 Q997.5,557.6 1000.6,556.4 Q999.4,555 999.6,552.6 Z" fill="#000"/>
<line x1="333" y1="555" x2="1000" y2="555" stroke="#000" stroke-width="4.8" stroke-linecap="round" stroke-dasharray="6.4 12.8"/>
<line x1="329.4" y1="97" x2="329.4" y2="563.5" stroke="#000" stroke-width="4.9"/>
<line x1="328" y1="561.2" x2="1022.6" y2="561.2" stroke="#000" stroke-width="4.8"/>
<line x1="309.2" y1="99" x2="329.4" y2="99" stroke="#000" stroke-width="4.5"/>
<text x="300.9" y="110.1" font-size="31" text-anchor="end">10</text>
<line x1="309.2" y1="231" x2="329.4" y2="231" stroke="#000" stroke-width="4.5"/>
<text x="300.9" y="242.1" font-size="31" text-anchor="end">8</text>
<line x1="309.2" y1="363" x2="329.4" y2="363" stroke="#000" stroke-width="4.5"/>
<text x="300.9" y="374.1" font-size="31" text-anchor="end">6</text>
<line x1="309.2" y1="495" x2="329.4" y2="495" stroke="#000" stroke-width="4.5"/>
<text x="300.9" y="506.1" font-size="31" text-anchor="end">4</text>
<line x1="309.2" y1="555" x2="329.4" y2="555" stroke="#000" stroke-width="4.5"/>
<line x1="390.7" y1="561" x2="390.7" y2="580.6" stroke="#000" stroke-width="4.5"/>
<text x="391.2" y="617" font-size="31" text-anchor="middle">1</text>
<line x1="533" y1="561" x2="533" y2="580.6" stroke="#000" stroke-width="4.5"/>
<text x="533.5" y="617" font-size="31" text-anchor="middle">2</text>
<line x1="675.3" y1="561" x2="675.3" y2="580.6" stroke="#000" stroke-width="4.5"/>
<text x="675.8" y="617" font-size="31" text-anchor="middle">3</text>
<line x1="817.6" y1="561" x2="817.6" y2="580.6" stroke="#000" stroke-width="4.5"/>
<text x="818.1" y="617" font-size="31" text-anchor="middle">4</text>
<line x1="959.9" y1="561" x2="959.9" y2="580.6" stroke="#000" stroke-width="4.5"/>
<text x="960.4" y="617" font-size="31" text-anchor="middle">5</text>
<text x="530" y="659.4" font-size="31">Days post-inoculation</text>
<text x="0" y="0" font-size="28.9" text-anchor="middle" transform="translate(258,330.3) rotate(-90)">sgRNA (log10 copies per mL)</text>
<polyline points="406,297.8 406,208.4 435.6,208.4 435.6,410.6" fill="none" stroke="#000" stroke-width="2.5" stroke-linejoin="miter"/>
<text x="421" y="186.7" font-size="24.5" text-anchor="middle">0.0004</text>
<polyline points="631.3,288 631.3,208.4 720,208.4 720,377.5" fill="none" stroke="#000" stroke-width="2.5" stroke-linejoin="miter"/>
<text x="675.4" y="186.7" font-size="24.5" text-anchor="middle">0.0041</text>
<polyline points="773.3,273.8 773.3,208.4 862,208.4 862,408" fill="none" stroke="#000" stroke-width="2.5" stroke-linejoin="miter"/>
<text x="818.5" y="186.7" font-size="24.5" text-anchor="middle">0.0095</text>
<polyline points="974.5,324 974.5,208.4 1004,208.4 1004,525" fill="none" stroke="#000" stroke-width="2.5" stroke-linejoin="miter"/>
<text x="988.3" y="186.7" font-size="24.5" text-anchor="middle">&lt;0.0001</text>
<polyline points="945,152.7 945,124 1004.5,124 1004.5,152.7" fill="none" stroke="#000" stroke-width="2.5" stroke-linejoin="miter"/>
<text x="975.8" y="102.6" font-size="24.5" text-anchor="middle">0.0005</text>
<polyline points="915.3,68.3 915.3,39.6 1004.5,39.6 1004.5,68.3" fill="none" stroke="#000" stroke-width="2.5" stroke-linejoin="miter"/>
<text x="960" y="19.3" font-size="24.5" text-anchor="middle">&lt;0.0001</text>
<rect x="269" y="682" width="51" height="18.5" fill="#008c45" stroke="#000" stroke-width="2.4"/>
<text x="348" y="701.7" font-size="31">XBB.1.5</text>
<rect x="492.9" y="682" width="51" height="18.5" fill="#7b3f8e" stroke="#000" stroke-width="2.4"/>
<text x="571.4" y="701.7" font-size="31">XBB.1.16</text>
<rect x="733.7" y="682" width="51" height="18.5" fill="#8f95c5" stroke="#000" stroke-width="2.4"/>
<text x="812.9" y="701.7" font-size="31">EG.5.1</text>
<rect x="939.4" y="682" width="51" height="18.5" fill="#e8b4d0" stroke="#000" stroke-width="2.4"/>
<text x="1018.6" y="701.7" font-size="31">JN.1</text>
<text x="1087.3" y="39.6" font-size="28.5" font-weight="bold" fill="#231f20">B</text>
<rect x="1227.15" y="154.19" width="54.3" height="407.81" fill="#83ae8c" stroke="#000" stroke-width="5"/>
<rect x="1299.95" y="205.14" width="54.3" height="356.86" fill="#a389b6" stroke="#000" stroke-width="5"/>
<rect x="1373.15" y="168.66" width="54.3" height="393.34" fill="#b3b5d6" stroke="#000" stroke-width="5"/>
<rect x="1446.65" y="206.3" width="54.3" height="355.7" fill="#edccde" stroke="#000" stroke-width="5"/>
<line x1="1254.3" y1="132" x2="1254.3" y2="170.9" stroke="#000" stroke-width="2.5"/>
<line x1="1238.8" y1="132" x2="1269.8" y2="132" stroke="#000" stroke-width="2.5"/>
<line x1="1238.8" y1="170.9" x2="1269.8" y2="170.9" stroke="#000" stroke-width="2.5"/>
<line x1="1327.1" y1="190" x2="1327.1" y2="214.6" stroke="#000" stroke-width="2.5"/>
<line x1="1311.6" y1="190" x2="1342.6" y2="190" stroke="#000" stroke-width="2.5"/>
<line x1="1311.6" y1="214.6" x2="1342.6" y2="214.6" stroke="#000" stroke-width="2.5"/>
<line x1="1400.3" y1="138.3" x2="1400.3" y2="194.6" stroke="#000" stroke-width="2.5"/>
<line x1="1384.8" y1="138.3" x2="1415.8" y2="138.3" stroke="#000" stroke-width="2.5"/>
<line x1="1384.8" y1="194.6" x2="1415.8" y2="194.6" stroke="#000" stroke-width="2.5"/>
<line x1="1473.8" y1="180.9" x2="1473.8" y2="227.7" stroke="#000" stroke-width="2.5"/>
<line x1="1458.3" y1="180.9" x2="1489.3" y2="180.9" stroke="#000" stroke-width="2.5"/>
<line x1="1458.3" y1="227.7" x2="1489.3" y2="227.7" stroke="#000" stroke-width="2.5"/>
<polygon points="1244.8,124.9 1249.55,117.4 1259.05,117.4 1263.8,124.9 1259.05,132.4 1249.55,132.4" fill="#00813f" stroke="#000" stroke-width="2" stroke-linejoin="miter"/>
<polygon points="1224.2,153.4 1228.95,145.9 1238.45,145.9 1243.2,153.4 1238.45,160.9 1228.95,160.9" fill="#00813f" stroke="#000" stroke-width="2" stroke-linejoin="miter"/>
<polygon points="1265.4,153.4 1270.15,145.9 1279.65,145.9 1284.4,153.4 1279.65,160.9 1270.15,160.9" fill="#00813f" stroke="#000" stroke-width="2" stroke-linejoin="miter"/>
<polygon points="1244.8,172.9 1249.55,165.4 1259.05,165.4 1263.8,172.9 1259.05,180.4 1249.55,180.4" fill="#00813f" stroke="#000" stroke-width="2" stroke-linejoin="miter"/>
<polygon points="1347.7,175.95 1357.45,185.7 1347.7,195.45 1337.95,185.7" fill="#6f3189" stroke="#000" stroke-width="2" stroke-linejoin="miter"/>
<polygon points="1327,191.95 1336.75,201.7 1327,211.45 1317.25,201.7" fill="#6f3189" stroke="#000" stroke-width="2" stroke-linejoin="miter"/>
<polygon points="1307,201.65 1316.75,211.4 1307,221.15 1297.25,211.4" fill="#6f3189" stroke="#000" stroke-width="2" stroke-linejoin="miter"/>
<polygon points="1347,201.65 1356.75,211.4 1347,221.15 1337.25,211.4" fill="#6f3189" stroke="#000" stroke-width="2" stroke-linejoin="miter"/>
<polygon points="1400.6,117.3 1410.1,133.8 1391.1,133.8" fill="#7e85bf" stroke="#000" stroke-width="2" stroke-linejoin="miter"/>
<polygon points="1400.6,167.3 1410.1,183.8 1391.1,183.8" fill="#7e85bf" stroke="#000" stroke-width="2" stroke-linejoin="miter"/>
<polygon points="1381.4,179.1 1390.9,195.6 1371.9,195.6" fill="#7e85bf" stroke="#000" stroke-width="2" stroke-linejoin="miter"/>
<polygon points="1420.6,179.1 1430.1,195.6 1411.1,195.6" fill="#7e85bf" stroke="#000" stroke-width="2" stroke-linejoin="miter"/>
<rect x="1444.3" y="179.2" width="18.8" height="18.8" fill="#e3a6c8" stroke="#000" stroke-width="2"/>
<rect x="1484.9" y="176" width="18.8" height="18.8" fill="#e3a6c8" stroke="#000" stroke-width="2"/>
<rect x="1464.3" y="198.6" width="18.8" height="18.8" fill="#e3a6c8" stroke="#000" stroke-width="2"/>
<rect x="1464.3" y="227" width="18.8" height="18.8" fill="#e3a6c8" stroke="#000" stroke-width="2"/>
<line x1="1210.3" y1="97" x2="1210.3" y2="564.5" stroke="#000" stroke-width="4.8" stroke-linecap="round"/>
<line x1="1189" y1="562.2" x2="1523" y2="562.2" stroke="#000" stroke-width="4.8" stroke-linecap="round"/>
<line x1="1188.8" y1="99" x2="1210.3" y2="99" stroke="#000" stroke-width="4.5" stroke-linecap="round"/>
<text x="1185.2" y="110.38" font-size="31.8" text-anchor="end">8</text>
<line x1="1188.8" y1="214.8" x2="1210.3" y2="214.8" stroke="#000" stroke-width="4.5" stroke-linecap="round"/>
<text x="1185.2" y="226.18" font-size="31.8" text-anchor="end">6</text>
<line x1="1188.8" y1="330.6" x2="1210.3" y2="330.6" stroke="#000" stroke-width="4.5" stroke-linecap="round"/>
<text x="1185.2" y="341.98" font-size="31.8" text-anchor="end">4</text>
<line x1="1188.8" y1="446.4" x2="1210.3" y2="446.4" stroke="#000" stroke-width="4.5" stroke-linecap="round"/>
<text x="1185.2" y="457.78" font-size="31.8" text-anchor="end">2</text>
<line x1="1188.8" y1="562.2" x2="1210.3" y2="562.2" stroke="#000" stroke-width="4.5" stroke-linecap="round"/>
<text x="1185.2" y="573.58" font-size="31.8" text-anchor="end">0</text>
<line x1="1254.3" y1="562" x2="1254.3" y2="582.9" stroke="#000" stroke-width="4.5"/>
<text x="0" y="0" font-size="32.2" text-anchor="end" transform="translate(1265.1,586.8) rotate(-90)">XBB.1.5</text>
<line x1="1327.1" y1="562" x2="1327.1" y2="582.9" stroke="#000" stroke-width="4.5"/>
<text x="0" y="0" font-size="32.2" text-anchor="end" transform="translate(1337.9,586.8) rotate(-90)">XBB.1.16</text>
<line x1="1400.3" y1="562" x2="1400.3" y2="582.9" stroke="#000" stroke-width="4.5"/>
<text x="0" y="0" font-size="32.2" text-anchor="end" transform="translate(1411.1,586.8) rotate(-90)">EG.5.1</text>
<line x1="1473.8" y1="562" x2="1473.8" y2="582.9" stroke="#000" stroke-width="4.5"/>
<text x="0" y="0" font-size="32.2" text-anchor="end" transform="translate(1484.6,586.8) rotate(-90)">JN.1</text>
<text x="0" y="0" font-size="32" text-anchor="middle" transform="translate(1151.5,333.5) rotate(-90)">AUC sgRNA swabs (log10)</text>
<text x="37" y="765" font-size="28.5" font-weight="bold" fill="#231f20">C</text>
<rect x="181.9" y="1034.87" width="36.2" height="230.13" fill="#83ae8c" stroke="#000" stroke-width="4.8"/>
<rect x="232.9" y="1144.53" width="36.2" height="120.47" fill="#a389b6" stroke="#000" stroke-width="4.8"/>
<rect x="284.4" y="943.05" width="36.2" height="321.95" fill="#b3b5d6" stroke="#000" stroke-width="4.8"/>
<rect x="335.9" y="1054.03" width="36.2" height="210.97" fill="#edccde" stroke="#000" stroke-width="4.8"/>
<rect x="428.9" y="939.74" width="36.2" height="325.26" fill="#83ae8c" stroke="#000" stroke-width="4.8"/>
<rect x="480.2" y="945.69" width="36.2" height="319.31" fill="#a389b6" stroke="#000" stroke-width="4.8"/>
<rect x="531.6" y="884.91" width="36.2" height="380.09" fill="#b3b5d6" stroke="#000" stroke-width="4.8"/>
<rect x="583.3" y="1046.76" width="36.2" height="218.24" fill="#edccde" stroke="#000" stroke-width="4.8"/>
<polygon points="190.5,887 195.25,879.5 204.75,879.5 209.5,887 204.75,894.5 195.25,894.5" fill="#00813f" stroke="#000" stroke-width="2" stroke-linejoin="miter"/>
<polygon points="190.5,1009.5 195.25,1002 204.75,1002 209.5,1009.5 204.75,1017 195.25,1017" fill="#00813f" stroke="#000" stroke-width="2" stroke-linejoin="miter"/>
<polygon points="201.75,1055.75 206.5,1048.25 216,1048.25 220.75,1055.75 216,1063.25 206.5,1063.25" fill="#00813f" stroke="#000" stroke-width="2" stroke-linejoin="miter"/>
<polygon points="179.25,1073.25 184,1065.75 193.5,1065.75 198.25,1073.25 193.5,1080.75 184,1080.75" fill="#00813f" stroke="#000" stroke-width="2" stroke-linejoin="miter"/>
<polygon points="437.1,892.3 441.85,884.8 451.35,884.8 456.1,892.3 451.35,899.8 441.85,899.8" fill="#00813f" stroke="#000" stroke-width="2" stroke-linejoin="miter"/>
<polygon points="437.1,917.9 441.85,910.4 451.35,910.4 456.1,917.9 451.35,925.4 441.85,925.4" fill="#00813f" stroke="#000" stroke-width="2" stroke-linejoin="miter"/>
<polygon points="437.1,956.6 441.85,949.1 451.35,949.1 456.1,956.6 451.35,964.1 441.85,964.1" fill="#00813f" stroke="#000" stroke-width="2" stroke-linejoin="miter"/>
<polygon points="437.1,977.9 441.85,970.4 451.35,970.4 456.1,977.9 451.35,985.4 441.85,985.4" fill="#00813f" stroke="#000" stroke-width="2" stroke-linejoin="miter"/>
<polygon points="251.25,909 261,918.75 251.25,928.5 241.5,918.75" fill="#6f3189" stroke="#000" stroke-width="2" stroke-linejoin="miter"/>
<polygon points="251.25,1083.5 261,1093.25 251.25,1103 241.5,1093.25" fill="#6f3189" stroke="#000" stroke-width="2" stroke-linejoin="miter"/>
<polygon points="251.25,1182.25 261,1192 251.25,1201.75 241.5,1192" fill="#6f3189" stroke="#000" stroke-width="2" stroke-linejoin="miter"/>
<polygon points="251.25,1204.75 261,1214.5 251.25,1224.25 241.5,1214.5" fill="#6f3189" stroke="#000" stroke-width="2" stroke-linejoin="miter"/>
<polygon points="498.2,893.25 507.95,903 498.2,912.75 488.45,903" fill="#6f3189" stroke="#000" stroke-width="2" stroke-linejoin="miter"/>
<polygon points="498.2,916.5 507.95,926.25 498.2,936 488.45,926.25" fill="#6f3189" stroke="#000" stroke-width="2" stroke-linejoin="miter"/>
<polygon points="498.2,949.55 507.95,959.3 498.2,969.05 488.45,959.3" fill="#6f3189" stroke="#000" stroke-width="2" stroke-linejoin="miter"/>
<polygon points="498.2,1006.5 507.95,1016.25 498.2,1026 488.45,1016.25" fill="#6f3189" stroke="#000" stroke-width="2" stroke-linejoin="miter"/>
<polygon points="302.5,872.35 312,888.85 293,888.85" fill="#7e85bf" stroke="#000" stroke-width="2" stroke-linejoin="miter"/>
<polygon points="291.25,931.1 300.75,947.6 281.75,947.6" fill="#7e85bf" stroke="#000" stroke-width="2" stroke-linejoin="miter"/>
<polygon points="313,935.35 322.5,951.85 303.5,951.85" fill="#7e85bf" stroke="#000" stroke-width="2" stroke-linejoin="miter"/>
<polygon points="302.5,961.1 312,977.6 293,977.6" fill="#7e85bf" stroke="#000" stroke-width="2" stroke-linejoin="miter"/>
<polygon points="549.3,836.8 558.8,853.3 539.8,853.3" fill="#7e85bf" stroke="#000" stroke-width="2" stroke-linejoin="miter"/>
<polygon points="538,868 547.5,884.5 528.5,884.5" fill="#7e85bf" stroke="#000" stroke-width="2" stroke-linejoin="miter"/>
<polygon points="560.7,880.6 570.2,897.1 551.2,897.1" fill="#7e85bf" stroke="#000" stroke-width="2" stroke-linejoin="miter"/>
<polygon points="549.3,920.6 558.8,937.1 539.8,937.1" fill="#7e85bf" stroke="#000" stroke-width="2" stroke-linejoin="miter"/>
<rect x="333.75" y="1022.75" width="18.5" height="18.5" fill="#e3a6c8" stroke="#000" stroke-width="2"/>
<rect x="355.75" y="1015.25" width="18.5" height="18.5" fill="#e3a6c8" stroke="#000" stroke-width="2"/>
<rect x="345.25" y="1062" width="18.5" height="18.5" fill="#e3a6c8" stroke="#000" stroke-width="2"/>
<rect x="345.25" y="1085.75" width="18.5" height="18.5" fill="#e3a6c8" stroke="#000" stroke-width="2"/>
<rect x="592.15" y="890.25" width="18.5" height="18.5" fill="#e3a6c8" stroke="#000" stroke-width="2"/>
<rect x="592.15" y="982.55" width="18.5" height="18.5" fill="#e3a6c8" stroke="#000" stroke-width="2"/>
<rect x="592.15" y="1087.35" width="18.5" height="18.5" fill="#e3a6c8" stroke="#000" stroke-width="2"/>
<rect x="592.15" y="1123.65" width="18.5" height="18.5" fill="#e3a6c8" stroke="#000" stroke-width="2"/>
<line x1="200" y1="918" x2="200" y2="1069.25" stroke="#000" stroke-width="2.5"/>
<line x1="189.25" y1="918" x2="210.75" y2="918" stroke="#000" stroke-width="2.5"/>
<line x1="189.25" y1="1069.25" x2="210.75" y2="1069.25" stroke="#000" stroke-width="2.5"/>
<line x1="251.25" y1="962.5" x2="251.25" y2="1207.5" stroke="#000" stroke-width="2.5"/>
<line x1="240.5" y1="962.5" x2="262" y2="962.5" stroke="#000" stroke-width="2.5"/>
<line x1="240.5" y1="1207.5" x2="262" y2="1207.5" stroke="#000" stroke-width="2.5"/>
<line x1="302.5" y1="894.25" x2="302.5" y2="962.5" stroke="#000" stroke-width="2.5"/>
<line x1="291.75" y1="894.25" x2="313.25" y2="894.25" stroke="#000" stroke-width="2.5"/>
<line x1="291.75" y1="962.5" x2="313.25" y2="962.5" stroke="#000" stroke-width="2.5"/>
<line x1="354.5" y1="1026.25" x2="354.5" y2="1088" stroke="#000" stroke-width="2.5"/>
<line x1="343.75" y1="1026.25" x2="365.25" y2="1026.25" stroke="#000" stroke-width="2.5"/>
<line x1="343.75" y1="1088" x2="365.25" y2="1088" stroke="#000" stroke-width="2.5"/>
<line x1="446.6" y1="898.6" x2="446.6" y2="972.7" stroke="#000" stroke-width="2.5"/>
<line x1="435.85" y1="898.6" x2="457.35" y2="898.6" stroke="#000" stroke-width="2.5"/>
<line x1="435.85" y1="972.7" x2="457.35" y2="972.7" stroke="#000" stroke-width="2.5"/>
<line x1="498.2" y1="909.3" x2="498.2" y2="1002" stroke="#000" stroke-width="2.5"/>
<line x1="487.45" y1="909.3" x2="508.95" y2="909.3" stroke="#000" stroke-width="2.5"/>
<line x1="487.45" y1="1002" x2="508.95" y2="1002" stroke="#000" stroke-width="2.5"/>
<line x1="549.3" y1="852.5" x2="549.3" y2="917.3" stroke="#000" stroke-width="2.5"/>
<line x1="538.55" y1="852.5" x2="560.05" y2="852.5" stroke="#000" stroke-width="2.5"/>
<line x1="538.55" y1="917.3" x2="560.05" y2="917.3" stroke="#000" stroke-width="2.5"/>
<line x1="601.4" y1="922.3" x2="601.4" y2="1123.4" stroke="#000" stroke-width="2.5"/>
<line x1="590.65" y1="922.3" x2="612.15" y2="922.3" stroke="#000" stroke-width="2.5"/>
<line x1="590.65" y1="1123.4" x2="612.15" y2="1123.4" stroke="#000" stroke-width="2.5"/>
<line x1="169.2" y1="1231" x2="620" y2="1231" stroke="#000" stroke-width="4.7" stroke-linecap="round" stroke-dasharray="6.2 13.08"/>
<line x1="169" y1="800.3" x2="169" y2="1267.3" stroke="#000" stroke-width="4.7" stroke-linecap="round"/>
<line x1="147.5" y1="1265" x2="635.7" y2="1265" stroke="#000" stroke-width="4.8" stroke-linecap="round"/>
<line x1="147.5" y1="802.58" x2="169" y2="802.58" stroke="#000" stroke-width="4.5" stroke-linecap="round"/>
<text x="144" y="814.21" font-size="32.5" text-anchor="end">10</text>
<line x1="147.5" y1="868.64" x2="169" y2="868.64" stroke="#000" stroke-width="4.5" stroke-linecap="round"/>
<text x="144" y="880.27" font-size="32.5" text-anchor="end">9</text>
<line x1="147.5" y1="934.7" x2="169" y2="934.7" stroke="#000" stroke-width="4.5" stroke-linecap="round"/>
<text x="144" y="946.34" font-size="32.5" text-anchor="end">8</text>
<line x1="147.5" y1="1000.76" x2="169" y2="1000.76" stroke="#000" stroke-width="4.5" stroke-linecap="round"/>
<text x="144" y="1012.39" font-size="32.5" text-anchor="end">7</text>
<line x1="147.5" y1="1066.82" x2="169" y2="1066.82" stroke="#000" stroke-width="4.5" stroke-linecap="round"/>
<text x="144" y="1078.45" font-size="32.5" text-anchor="end">6</text>
<line x1="147.5" y1="1132.88" x2="169" y2="1132.88" stroke="#000" stroke-width="4.5" stroke-linecap="round"/>
<text x="144" y="1144.52" font-size="32.5" text-anchor="end">5</text>
<line x1="147.5" y1="1198.94" x2="169" y2="1198.94" stroke="#000" stroke-width="4.5" stroke-linecap="round"/>
<text x="144" y="1210.58" font-size="32.5" text-anchor="end">4</text>
<line x1="147.5" y1="1265" x2="169" y2="1265" stroke="#000" stroke-width="4.5" stroke-linecap="round"/>
<text x="144" y="1276.63" font-size="32.5" text-anchor="end">3</text>
<line x1="276" y1="1265" x2="276" y2="1286" stroke="#000" stroke-width="4.5"/>
<line x1="523.2" y1="1265" x2="523.2" y2="1286" stroke="#000" stroke-width="4.5"/>
<text x="277.3" y="1317.5" font-size="32" text-anchor="middle">Nasal turbinates</text>
<text x="523" y="1317.5" font-size="32" text-anchor="middle">Lung</text>
<text x="0" y="0" font-size="32.4" text-anchor="middle" transform="translate(66,1036) rotate(-90)">gRNA (log10 copies/g)</text>
<polyline points="251.25,892.5 251.25,790 303,790 303,853.75" fill="none" stroke="#000" stroke-width="2.5" stroke-linejoin="miter"/>
<text x="277" y="771.3" font-size="25.7" text-anchor="middle">0.0153</text>
<polyline points="549.3,817.9 549.3,789.6 601.4,789.6 601.4,872.7" fill="none" stroke="#000" stroke-width="2.5" stroke-linejoin="miter"/>
<text x="575.3" y="771.8" font-size="25.7" text-anchor="middle">0.0462</text>
<polygon points="329.1,1349 333.85,1341.5 343.35,1341.5 348.1,1349 343.35,1356.5 333.85,1356.5" fill="#00813f" stroke="#000" stroke-width="2" stroke-linejoin="miter"/>
<text x="363.6" y="1358.6" font-size="31.7">XBB.1.5</text>
<polygon points="532,1339.25 541.75,1349 532,1358.75 522.25,1349" fill="#6f3189" stroke="#000" stroke-width="2" stroke-linejoin="miter"/>
<text x="557" y="1358.6" font-size="31.7">XBB.1.16</text>
<polygon points="742.8,1342.6 752.3,1359.1 733.3,1359.1" fill="#7e85bf" stroke="#000" stroke-width="2" stroke-linejoin="miter"/>
<text x="766" y="1358.6" font-size="31.7">EG.5.1</text>
<rect x="907.75" y="1340.25" width="18.5" height="18.5" fill="#e3a6c8" stroke="#000" stroke-width="2"/>
<text x="943" y="1358.6" font-size="31.7">JN.1</text>
<text x="688.2" y="764.8" font-size="28.5" font-weight="bold" fill="#231f20">D</text>
<rect x="815.3" y="925.6" width="35.2" height="335.9" fill="#83ae8c" stroke="#000" stroke-width="4.8"/>
<rect x="866.7" y="992.4" width="35.2" height="269.1" fill="#a389b6" stroke="#000" stroke-width="4.8"/>
<rect x="918.1" y="913.2" width="35.2" height="348.3" fill="#b3b5d6" stroke="#000" stroke-width="4.8"/>
<rect x="969.4" y="1023.5" width="35.2" height="238" fill="#edccde" stroke="#000" stroke-width="4.8"/>
<rect x="1062.6" y="1145.3" width="35.2" height="116.2" fill="#83ae8c" stroke="#000" stroke-width="4.8"/>
<rect x="1113.9" y="1096.9" width="35.2" height="164.6" fill="#a389b6" stroke="#000" stroke-width="4.8"/>
<rect x="1165.1" y="964.5" width="35.2" height="297" fill="#b3b5d6" stroke="#000" stroke-width="4.8"/>
<rect x="1216.3" y="1231.4" width="35.2" height="30.1" fill="#edccde" stroke="#000" stroke-width="4.8"/>
<polygon points="834.3,907.2 839.05,899.7 848.55,899.7 853.3,907.2 848.55,914.7 839.05,914.7" fill="#00813f" stroke="#000" stroke-width="2" stroke-linejoin="miter"/>
<polygon points="811.8,921.3 816.55,913.8 826.05,913.8 830.8,921.3 826.05,928.8 816.55,928.8" fill="#00813f" stroke="#000" stroke-width="2" stroke-linejoin="miter"/>
<polygon points="834.3,928.2 839.05,920.7 848.55,920.7 853.3,928.2 848.55,935.7 839.05,935.7" fill="#00813f" stroke="#000" stroke-width="2" stroke-linejoin="miter"/>
<polygon points="823.5,1228.2 828.25,1220.7 837.75,1220.7 842.5,1228.2 837.75,1235.7 828.25,1235.7" fill="#00813f" stroke="#000" stroke-width="2" stroke-linejoin="miter"/>
<polygon points="1070.3,902.4 1075.05,894.9 1084.55,894.9 1089.3,902.4 1084.55,909.9 1075.05,909.9" fill="#00813f" stroke="#000" stroke-width="2" stroke-linejoin="miter"/>
<polygon points="1070.5,1059.1 1075.25,1051.6 1084.75,1051.6 1089.5,1059.1 1084.75,1066.6 1075.25,1066.6" fill="#00813f" stroke="#000" stroke-width="2" stroke-linejoin="miter"/>
<polygon points="1059.1,1228.4 1063.85,1220.9 1073.35,1220.9 1078.1,1228.4 1073.35,1235.9 1063.85,1235.9" fill="#00813f" stroke="#000" stroke-width="2" stroke-linejoin="miter"/>
<polygon points="1081.6,1228.4 1086.35,1220.9 1095.85,1220.9 1100.6,1228.4 1095.85,1235.9 1086.35,1235.9" fill="#00813f" stroke="#000" stroke-width="2" stroke-linejoin="miter"/>
<polygon points="884,943.45 893.75,953.2 884,962.95 874.25,953.2" fill="#6f3189" stroke="#000" stroke-width="2" stroke-linejoin="miter"/>
<polygon points="884,963.55 893.75,973.3 884,983.05 874.25,973.3" fill="#6f3189" stroke="#000" stroke-width="2" stroke-linejoin="miter"/>
<polygon points="884,998.35 893.75,1008.1 884,1017.85 874.25,1008.1" fill="#6f3189" stroke="#000" stroke-width="2" stroke-linejoin="miter"/>
<polygon points="884,1041.75 893.75,1051.5 884,1061.25 874.25,1051.5" fill="#6f3189" stroke="#000" stroke-width="2" stroke-linejoin="miter"/>
<polygon points="1142.2,937.45 1151.95,947.2 1142.2,956.95 1132.45,947.2" fill="#6f3189" stroke="#000" stroke-width="2" stroke-linejoin="miter"/>
<polygon points="1119.7,952.95 1129.45,962.7 1119.7,972.45 1109.95,962.7" fill="#6f3189" stroke="#000" stroke-width="2" stroke-linejoin="miter"/>
<polygon points="1119.7,1218.65 1129.45,1228.4 1119.7,1238.15 1109.95,1228.4" fill="#6f3189" stroke="#000" stroke-width="2" stroke-linejoin="miter"/>
<polygon points="1142.2,1218.65 1151.95,1228.4 1142.2,1238.15 1132.45,1228.4" fill="#6f3189" stroke="#000" stroke-width="2" stroke-linejoin="miter"/>
<polygon points="935.2,841.6 944.7,858.1 925.7,858.1" fill="#7e85bf" stroke="#000" stroke-width="2" stroke-linejoin="miter"/>
<polygon points="935.2,888.3 944.7,904.8 925.7,904.8" fill="#7e85bf" stroke="#000" stroke-width="2" stroke-linejoin="miter"/>
<polygon points="935.2,925.4 944.7,941.9 925.7,941.9" fill="#7e85bf" stroke="#000" stroke-width="2" stroke-linejoin="miter"/>
<polygon points="935.3,990.8 944.8,1007.3 925.8,1007.3" fill="#7e85bf" stroke="#000" stroke-width="2" stroke-linejoin="miter"/>
<polygon points="1182.1,896.5 1191.6,913 1172.6,913" fill="#7e85bf" stroke="#000" stroke-width="2" stroke-linejoin="miter"/>
<polygon points="1171.3,947.6 1180.8,964.1 1161.8,964.1" fill="#7e85bf" stroke="#000" stroke-width="2" stroke-linejoin="miter"/>
<polygon points="1193.3,964.6 1202.8,981.1 1183.8,981.1" fill="#7e85bf" stroke="#000" stroke-width="2" stroke-linejoin="miter"/>
<polygon points="1182.1,1006.5 1191.6,1023 1172.6,1023" fill="#7e85bf" stroke="#000" stroke-width="2" stroke-linejoin="miter"/>
<rect x="977.85" y="955.55" width="18.5" height="18.5" fill="#e3a6c8" stroke="#000" stroke-width="2"/>
<rect x="966.15" y="1003.15" width="18.5" height="18.5" fill="#e3a6c8" stroke="#000" stroke-width="2"/>
<rect x="989.35" y="1020.55" width="18.5" height="18.5" fill="#e3a6c8" stroke="#000" stroke-width="2"/>
<rect x="977.85" y="1046.05" width="18.5" height="18.5" fill="#e3a6c8" stroke="#000" stroke-width="2"/>
<rect x="1212.25" y="1219.15" width="18.5" height="18.5" fill="#e3a6c8" stroke="#000" stroke-width="2"/>
<rect x="1224.65" y="1219.15" width="18.5" height="18.5" fill="#e3a6c8" stroke="#000" stroke-width="2"/>
<rect x="1236.75" y="1219.15" width="18.5" height="18.5" fill="#e3a6c8" stroke="#000" stroke-width="2"/>
<line x1="832.4" y1="910" x2="832.4" y2="1153.3" stroke="#000" stroke-width="2.5"/>
<line x1="821.9" y1="910" x2="842.9" y2="910" stroke="#000" stroke-width="2.5"/>
<line x1="821.9" y1="1153.3" x2="842.9" y2="1153.3" stroke="#000" stroke-width="2.5"/>
<line x1="884" y1="958.3" x2="884" y2="1040.3" stroke="#000" stroke-width="2.5"/>
<line x1="873.5" y1="958.3" x2="894.5" y2="958.3" stroke="#000" stroke-width="2.5"/>
<line x1="873.5" y1="1040.3" x2="894.5" y2="1040.3" stroke="#000" stroke-width="2.5"/>
<line x1="935.3" y1="861" x2="935.3" y2="980.6" stroke="#000" stroke-width="2.5"/>
<line x1="924.8" y1="861" x2="945.8" y2="861" stroke="#000" stroke-width="2.5"/>
<line x1="924.8" y1="980.6" x2="945.8" y2="980.6" stroke="#000" stroke-width="2.5"/>
<line x1="987.1" y1="976" x2="987.1" y2="1046.8" stroke="#000" stroke-width="2.5"/>
<line x1="976.6" y1="976" x2="997.6" y2="976" stroke="#000" stroke-width="2.5"/>
<line x1="976.6" y1="1046.8" x2="997.6" y2="1046.8" stroke="#000" stroke-width="2.5"/>
<line x1="1080" y1="941.4" x2="1080" y2="1262" stroke="#000" stroke-width="2.5"/>
<line x1="1069.5" y1="941.4" x2="1090.5" y2="941.4" stroke="#000" stroke-width="2.5"/>
<line x1="1131" y1="951.1" x2="1131" y2="1262" stroke="#000" stroke-width="2.5"/>
<line x1="1120.5" y1="951.1" x2="1141.5" y2="951.1" stroke="#000" stroke-width="2.5"/>
<line x1="1182.1" y1="916.3" x2="1182.1" y2="1003" stroke="#000" stroke-width="2.5"/>
<line x1="1171.6" y1="916.3" x2="1192.6" y2="916.3" stroke="#000" stroke-width="2.5"/>
<line x1="1171.6" y1="1003" x2="1192.6" y2="1003" stroke="#000" stroke-width="2.5"/>
<line x1="801.6" y1="1228.4" x2="1253.5" y2="1228.4" stroke="#000" stroke-width="4.7" stroke-linecap="round" stroke-dasharray="6.2 13.03"/>
<line x1="802" y1="795.6" x2="802" y2="1263.8" stroke="#000" stroke-width="4.7" stroke-linecap="round"/>
<line x1="781.5" y1="1261.5" x2="1269" y2="1261.5" stroke="#000" stroke-width="4.8" stroke-linecap="round"/>
<line x1="781" y1="798.31" x2="802" y2="798.31" stroke="#000" stroke-width="4.5" stroke-linecap="round"/>
<text x="777.5" y="809.77" font-size="32" text-anchor="end">7</text>
<line x1="781" y1="864.48" x2="802" y2="864.48" stroke="#000" stroke-width="4.5" stroke-linecap="round"/>
<text x="777.5" y="875.94" font-size="32" text-anchor="end">6</text>
<line x1="781" y1="930.65" x2="802" y2="930.65" stroke="#000" stroke-width="4.5" stroke-linecap="round"/>
<text x="777.5" y="942.11" font-size="32" text-anchor="end">5</text>
<line x1="781" y1="996.82" x2="802" y2="996.82" stroke="#000" stroke-width="4.5" stroke-linecap="round"/>
<text x="777.5" y="1008.28" font-size="32" text-anchor="end">4</text>
<line x1="781" y1="1062.99" x2="802" y2="1062.99" stroke="#000" stroke-width="4.5" stroke-linecap="round"/>
<text x="777.5" y="1074.45" font-size="32" text-anchor="end">3</text>
<line x1="781" y1="1129.16" x2="802" y2="1129.16" stroke="#000" stroke-width="4.5" stroke-linecap="round"/>
<text x="777.5" y="1140.62" font-size="32" text-anchor="end">2</text>
<line x1="781" y1="1195.33" x2="802" y2="1195.33" stroke="#000" stroke-width="4.5" stroke-linecap="round"/>
<text x="777.5" y="1206.79" font-size="32" text-anchor="end">1</text>
<line x1="781" y1="1261.5" x2="802" y2="1261.5" stroke="#000" stroke-width="4.5" stroke-linecap="round"/>
<text x="777.5" y="1272.96" font-size="32" text-anchor="end">0</text>
<line x1="909.2" y1="1261.5" x2="909.2" y2="1281" stroke="#000" stroke-width="4.5"/>
<line x1="1155.6" y1="1261.5" x2="1155.6" y2="1281" stroke="#000" stroke-width="4.5"/>
<text x="910.3" y="1313.5" font-size="32" text-anchor="middle">Nasal trubinates</text>
<text x="1155.8" y="1313.5" font-size="32" text-anchor="middle">Lung</text>
<text font-size="32" text-anchor="middle" transform="translate(734,1032.5) rotate(-90)">Virus titer (log10 TCID<tspan font-size="23" dy="7">50</tspan><tspan dy="-7">/g)</tspan></text>
<polyline points="1182.1,877.1 1182.1,794 1233.8,794 1233.8,1201.5" fill="none" stroke="#000" stroke-width="2.5" stroke-linejoin="miter"/>
<text x="1208" y="775" font-size="25.7" text-anchor="middle">0.0055</text>
<text x="1304.6" y="765.2" font-size="28.5" font-weight="bold" fill="#231f20">E</text>
<rect x="1447.95" y="1024.8" width="41.7" height="232.4" fill="#e6e6e6" stroke="#000" stroke-width="4.8"/>
<rect x="1507.35" y="1011.6" width="41.7" height="245.6" fill="#87b793" stroke="#000" stroke-width="4.8"/>
<rect x="1566.85" y="1029.4" width="41.7" height="227.8" fill="#ac8eba" stroke="#000" stroke-width="4.8"/>
<rect x="1626.45" y="1006.9" width="41.7" height="250.3" fill="#c0c1df" stroke="#000" stroke-width="4.8"/>
<rect x="1685.65" y="1002.9" width="41.7" height="254.3" fill="#e6b2ce" stroke="#000" stroke-width="4.8"/>
<line x1="1468.8" y1="991.2" x2="1468.8" y2="1054.2" stroke="#000" stroke-width="2.5"/>
<line x1="1456.5" y1="991.2" x2="1481.1" y2="991.2" stroke="#000" stroke-width="2.5"/>
<line x1="1456.5" y1="1054.2" x2="1481.1" y2="1054.2" stroke="#000" stroke-width="2.5"/>
<line x1="1528.2" y1="967.9" x2="1528.2" y2="1052.3" stroke="#000" stroke-width="2.5"/>
<line x1="1515.9" y1="967.9" x2="1540.5" y2="967.9" stroke="#000" stroke-width="2.5"/>
<line x1="1515.9" y1="1052.3" x2="1540.5" y2="1052.3" stroke="#000" stroke-width="2.5"/>
<line x1="1587.6" y1="985.2" x2="1587.6" y2="1070" stroke="#000" stroke-width="2.5"/>
<line x1="1575.3" y1="985.2" x2="1599.9" y2="985.2" stroke="#000" stroke-width="2.5"/>
<line x1="1575.3" y1="1070" x2="1599.9" y2="1070" stroke="#000" stroke-width="2.5"/>
<line x1="1647.3" y1="975.6" x2="1647.3" y2="1033.6" stroke="#000" stroke-width="2.5"/>
<line x1="1635" y1="975.6" x2="1659.6" y2="975.6" stroke="#000" stroke-width="2.5"/>
<line x1="1635" y1="1033.6" x2="1659.6" y2="1033.6" stroke="#000" stroke-width="2.5"/>
<line x1="1706.5" y1="984.3" x2="1706.5" y2="1015.3" stroke="#000" stroke-width="2.5"/>
<line x1="1694.2" y1="984.3" x2="1718.8" y2="984.3" stroke="#000" stroke-width="2.5"/>
<line x1="1694.2" y1="1015.3" x2="1718.8" y2="1015.3" stroke="#000" stroke-width="2.5"/>
<circle cx="1468.8" cy="987" r="9.3" fill="#d4d4d4" stroke="#000" stroke-width="2"/>
<circle cx="1468.8" cy="1007" r="9.3" fill="#d4d4d4" stroke="#000" stroke-width="2"/>
<circle cx="1483.9" cy="1039.1" r="9.3" fill="#d4d4d4" stroke="#000" stroke-width="2"/>
<circle cx="1454.6" cy="1056.9" r="9.3" fill="#d4d4d4" stroke="#000" stroke-width="2"/>
<polygon points="1504.5,976.1 1509.25,968.6 1518.75,968.6 1523.5,976.1 1518.75,983.6 1509.25,983.6" fill="#00813f" stroke="#000" stroke-width="2" stroke-linejoin="miter"/>
<polygon points="1533.8,972 1538.55,964.5 1548.05,964.5 1552.8,972 1548.05,979.5 1538.55,979.5" fill="#00813f" stroke="#000" stroke-width="2" stroke-linejoin="miter"/>
<polygon points="1533.8,1037.7 1538.55,1030.2 1548.05,1030.2 1552.8,1037.7 1548.05,1045.2 1538.55,1045.2" fill="#00813f" stroke="#000" stroke-width="2" stroke-linejoin="miter"/>
<polygon points="1504.5,1054.2 1509.25,1046.7 1518.75,1046.7 1523.5,1054.2 1518.75,1061.7 1509.25,1061.7" fill="#00813f" stroke="#000" stroke-width="2" stroke-linejoin="miter"/>
<polygon points="1573.4,984.75 1583.15,994.5 1573.4,1004.25 1563.65,994.5" fill="#6f3189" stroke="#000" stroke-width="2" stroke-linejoin="miter"/>
<polygon points="1602.2,977.35 1611.95,987.1 1602.2,996.85 1592.45,987.1" fill="#6f3189" stroke="#000" stroke-width="2" stroke-linejoin="miter"/>
<polygon points="1573.4,1057.25 1583.15,1067 1573.4,1076.75 1563.65,1067" fill="#6f3189" stroke="#000" stroke-width="2" stroke-linejoin="miter"/>
<polygon points="1602.2,1053.25 1611.95,1063 1602.2,1072.75 1592.45,1063" fill="#6f3189" stroke="#000" stroke-width="2" stroke-linejoin="miter"/>
<polygon points="1632.3,983.2 1641.8,999.7 1622.8,999.7" fill="#7e85bf" stroke="#000" stroke-width="2" stroke-linejoin="miter"/>
<polygon points="1661.9,970.9 1671.4,987.4 1652.4,987.4" fill="#7e85bf" stroke="#000" stroke-width="2" stroke-linejoin="miter"/>
<polygon points="1647.3,1003.6 1656.8,1020.1 1637.8,1020.1" fill="#7e85bf" stroke="#000" stroke-width="2" stroke-linejoin="miter"/>
<polygon points="1647.3,1040.6 1656.8,1057.1 1637.8,1057.1" fill="#7e85bf" stroke="#000" stroke-width="2" stroke-linejoin="miter"/>
<rect x="1683.25" y="980.55" width="18.5" height="18.5" fill="#e2b2cc" fill-opacity="0.42" stroke="#000" stroke-width="2"/>
<rect x="1712.05" y="974.25" width="18.5" height="18.5" fill="#e2b2cc" fill-opacity="0.42" stroke="#000" stroke-width="2"/>
<rect x="1683.25" y="1005.25" width="18.5" height="18.5" fill="#e2b2cc" fill-opacity="0.42" stroke="#000" stroke-width="2"/>
<rect x="1712.05" y="1002.45" width="18.5" height="18.5" fill="#e2b2cc" fill-opacity="0.42" stroke="#000" stroke-width="2"/>
<line x1="1433.6" y1="792.4" x2="1433.6" y2="1259.9" stroke="#000" stroke-width="5.2"/>
<line x1="1414" y1="1257.2" x2="1741.8" y2="1257.2" stroke="#000" stroke-width="5.4" stroke-linecap="round"/>
<line x1="1414" y1="795" x2="1433.6" y2="795" stroke="#000" stroke-width="5.5"/>
<text x="1405.6" y="806.1" font-size="31" text-anchor="end">1.5</text>
<line x1="1414" y1="949.08" x2="1433.6" y2="949.08" stroke="#000" stroke-width="5.5"/>
<text x="1405.6" y="960.17" font-size="31" text-anchor="end">1.0</text>
<line x1="1414" y1="1103.15" x2="1433.6" y2="1103.15" stroke="#000" stroke-width="5.5"/>
<text x="1405.6" y="1114.25" font-size="31" text-anchor="end">0.5</text>
<line x1="1414" y1="1257.22" x2="1433.6" y2="1257.22" stroke="#000" stroke-width="5.5"/>
<text x="1405.6" y="1268.32" font-size="31" text-anchor="end">0.0</text>
<line x1="1469.4" y1="1257.2" x2="1469.4" y2="1276.4" stroke="#000" stroke-width="4.5"/>
<text x="0" y="0" font-size="32" text-anchor="end" transform="translate(1480.2,1285.5) rotate(-90)">Controls</text>
<line x1="1528.2" y1="1257.2" x2="1528.2" y2="1276.4" stroke="#000" stroke-width="4.5"/>
<text x="0" y="0" font-size="32" text-anchor="end" transform="translate(1539,1285.5) rotate(-90)">XBB.1.5</text>
<line x1="1587.9" y1="1257.2" x2="1587.9" y2="1276.4" stroke="#000" stroke-width="4.5"/>
<text x="0" y="0" font-size="32" text-anchor="end" transform="translate(1598.7,1285.5) rotate(-90)">XBB.1.16</text>
<line x1="1647.3" y1="1257.2" x2="1647.3" y2="1276.4" stroke="#000" stroke-width="4.5"/>
<text x="0" y="0" font-size="32" text-anchor="end" transform="translate(1658.1,1285.5) rotate(-90)">EG.5.1</text>
<line x1="1706.8" y1="1257.2" x2="1706.8" y2="1276.4" stroke="#000" stroke-width="4.5"/>
<text x="0" y="0" font-size="32" text-anchor="end" transform="translate(1717.6,1285.5) rotate(-90)">JN.1</text>
<line x1="1515.9" y1="1439.3" x2="1717.7" y2="1439.3" stroke="#000" stroke-width="5"/>
<text x="1617.3" y="1472.2" font-size="31.3" text-anchor="middle" fill="#231f20">5 DPI</text>
<text x="0" y="0" font-size="31" text-anchor="middle" transform="translate(1346,1019) rotate(-90)">Lung/body weight ratio</text>
<text x="-2.5" y="1525" font-size="28.5" font-weight="bold" fill="#231f20">F</text>
<text x="197.3" y="1531.4" font-size="31" text-anchor="middle" font-weight="bold">Bronchiolitis</text>
<text font-size="33" text-anchor="middle" transform="translate(26.5,1887) rotate(-90) scale(0.905,1)">Score</text>
<rect x="95.5" y="1887.55" width="39" height="113.45" fill="#88b994" stroke="#000" stroke-width="4.5"/>
<rect x="150.5" y="1829.7" width="39" height="171.3" fill="#ab8eba" stroke="#000" stroke-width="4.5"/>
<rect x="205.7" y="1771.85" width="39" height="229.15" fill="#c1c2e0" stroke="#000" stroke-width="4.5"/>
<rect x="260.75" y="1974.33" width="39" height="26.67" fill="#f3d9e7" stroke="#000" stroke-width="4.5"/>
<line x1="82" y1="1651.9" x2="82" y2="2119" stroke="#000" stroke-width="4.6"/>
<line x1="62" y1="1653.9" x2="82" y2="1653.9" stroke="#000" stroke-width="4.5"/>
<text x="56" y="1665.36" font-size="32" text-anchor="end">3</text>
<line x1="62" y1="1769.6" x2="82" y2="1769.6" stroke="#000" stroke-width="4.5"/>
<text x="56" y="1781.06" font-size="32" text-anchor="end">2</text>
<line x1="62" y1="1885.3" x2="82" y2="1885.3" stroke="#000" stroke-width="4.5"/>
<text x="56" y="1896.76" font-size="32" text-anchor="end">1</text>
<line x1="62" y1="2001" x2="82" y2="2001" stroke="#000" stroke-width="4.5"/>
<text x="56" y="2012.46" font-size="32" text-anchor="end">0</text>
<line x1="62" y1="2116.7" x2="82" y2="2116.7" stroke="#000" stroke-width="4.5"/>
<text x="56" y="2128.16" font-size="32" text-anchor="end">-1</text>
<line x1="62" y1="2001" x2="313.5" y2="2001" stroke="#000" stroke-width="4.8" stroke-linecap="round"/>
<line x1="62" y1="2116.7" x2="313.5" y2="2116.7" stroke="#000" stroke-width="4.8"/>
<line x1="115" y1="2116.7" x2="115" y2="2136.2" stroke="#000" stroke-width="4.5"/>
<text x="0" y="0" font-size="32.2" text-anchor="end" transform="translate(126.3,2144.3) rotate(-90)">XBB.1.5</text>
<line x1="170" y1="2116.7" x2="170" y2="2136.2" stroke="#000" stroke-width="4.5"/>
<text x="0" y="0" font-size="32.2" text-anchor="end" transform="translate(181.3,2144.3) rotate(-90)">XBB.1.16</text>
<line x1="224.6" y1="2116.7" x2="224.6" y2="2136.2" stroke="#000" stroke-width="4.5"/>
<text x="0" y="0" font-size="32.2" text-anchor="end" transform="translate(235.9,2144.3) rotate(-90)">EG.5.1</text>
<line x1="279.6" y1="2116.7" x2="279.6" y2="2136.2" stroke="#000" stroke-width="4.5"/>
<text x="0" y="0" font-size="32.2" text-anchor="end" transform="translate(290.9,2144.3) rotate(-90)">JN.1</text>
<line x1="170" y1="1760.69" x2="170" y2="1894.21" stroke="#000" stroke-width="2.5"/>
<line x1="157.5" y1="1760.69" x2="182.5" y2="1760.69" stroke="#000" stroke-width="2.5"/>
<line x1="157.5" y1="1894.21" x2="182.5" y2="1894.21" stroke="#000" stroke-width="2.5"/>
<line x1="280.3" y1="1914.22" x2="280.3" y2="2029.92" stroke="#000" stroke-width="2.5"/>
<line x1="268.8" y1="1914.22" x2="291.8" y2="1914.22" stroke="#000" stroke-width="2.5"/>
<line x1="268.8" y1="2029.92" x2="291.8" y2="2029.92" stroke="#000" stroke-width="2.5"/>
<polygon points="110.7,1885.3 115.35,1877.8 124.65,1877.8 129.3,1885.3 124.65,1892.8 115.35,1892.8" fill="#00813f" stroke="#000" stroke-width="2" stroke-linejoin="miter"/>
<polygon points="93.2,1885.3 97.85,1877.8 107.15,1877.8 111.8,1885.3 107.15,1892.8 97.85,1892.8" fill="#00813f" stroke="#000" stroke-width="2" stroke-linejoin="miter"/>
<polygon points="101.2,1885.3 105.85,1877.8 115.15,1877.8 119.8,1885.3 115.15,1892.8 105.85,1892.8" fill="#00813f" stroke="#000" stroke-width="2" stroke-linejoin="miter"/>
<polygon points="120.2,1885.3 124.85,1877.8 134.15,1877.8 138.8,1885.3 134.15,1892.8 124.85,1892.8" fill="#00813f" stroke="#000" stroke-width="2" stroke-linejoin="miter"/>
<polygon points="157.5,1759.85 167.25,1769.6 157.5,1779.35 147.75,1769.6" fill="#6f3189" stroke="#000" stroke-width="2" stroke-linejoin="miter"/>
<polygon points="182.6,1759.85 192.35,1769.6 182.6,1779.35 172.85,1769.6" fill="#6f3189" stroke="#000" stroke-width="2" stroke-linejoin="miter"/>
<polygon points="157.5,1875.55 167.25,1885.3 157.5,1895.05 147.75,1885.3" fill="#6f3189" stroke="#000" stroke-width="2" stroke-linejoin="miter"/>
<polygon points="182.6,1875.55 192.35,1885.3 182.6,1895.05 172.85,1885.3" fill="#6f3189" stroke="#000" stroke-width="2" stroke-linejoin="miter"/>
<polygon points="212,1760.52 221.5,1777.02 202.5,1777.02" fill="#7e85bf" stroke="#000" stroke-width="2" stroke-linejoin="miter"/>
<polygon points="220.7,1760.52 230.2,1777.02 211.2,1777.02" fill="#7e85bf" stroke="#000" stroke-width="2" stroke-linejoin="miter"/>
<polygon points="229.3,1760.52 238.8,1777.02 219.8,1777.02" fill="#7e85bf" stroke="#000" stroke-width="2" stroke-linejoin="miter"/>
<polygon points="237.8,1760.52 247.3,1777.02 228.3,1777.02" fill="#7e85bf" stroke="#000" stroke-width="2" stroke-linejoin="miter"/>
<rect x="271.05" y="1876.05" width="18.5" height="18.5" fill="#e8b4cf" stroke="#000" stroke-width="2"/>
<rect x="257.85" y="1991.75" width="18.5" height="18.5" fill="#e8b4cf" stroke="#000" stroke-width="2"/>
<rect x="283.95" y="1991.75" width="18.5" height="18.5" fill="#e8b4cf" stroke="#000" stroke-width="2"/>
<rect x="270.55" y="1991.75" width="18.5" height="18.5" fill="#e8b4cf" stroke="#000" stroke-width="2"/>
<polyline points="225,1747.8 225,1735.4 280.3,1735.4 280.3,1862.9" fill="none" stroke="#2b2b2b" stroke-width="2.2" stroke-linejoin="miter"/>
<text x="252.6" y="1718.9" font-size="25.7" text-anchor="middle" fill="#2b2b2b">0.0062</text>
<text x="528.6" y="1531.8" font-size="31" text-anchor="middle" font-weight="bold">Interstitial Pneumonia</text>
<text font-size="33" text-anchor="middle" transform="translate(357,1885) rotate(-90) scale(0.905,1)">Score</text>
<rect x="427.2" y="1916.65" width="39" height="84.45" fill="#88b994" stroke="#000" stroke-width="4.5"/>
<rect x="482.4" y="1858.85" width="39" height="142.25" fill="#ab8eba" stroke="#000" stroke-width="4.5"/>
<rect x="537.3" y="1887.75" width="39" height="113.35" fill="#c1c2e0" stroke="#000" stroke-width="4.5"/>
<line x1="413.7" y1="1652.3" x2="413.7" y2="2119" stroke="#000" stroke-width="4.6"/>
<line x1="393.7" y1="1654.3" x2="413.7" y2="1654.3" stroke="#000" stroke-width="4.5"/>
<text x="387.7" y="1665.76" font-size="32" text-anchor="end">3</text>
<line x1="393.7" y1="1769.9" x2="413.7" y2="1769.9" stroke="#000" stroke-width="4.5"/>
<text x="387.7" y="1781.36" font-size="32" text-anchor="end">2</text>
<line x1="393.7" y1="1885.5" x2="413.7" y2="1885.5" stroke="#000" stroke-width="4.5"/>
<text x="387.7" y="1896.96" font-size="32" text-anchor="end">1</text>
<line x1="393.7" y1="2001.1" x2="413.7" y2="2001.1" stroke="#000" stroke-width="4.5"/>
<text x="387.7" y="2012.56" font-size="32" text-anchor="end">0</text>
<line x1="393.7" y1="2116.7" x2="413.7" y2="2116.7" stroke="#000" stroke-width="4.5"/>
<text x="387.7" y="2128.16" font-size="32" text-anchor="end">-1</text>
<line x1="393.7" y1="2001.1" x2="646" y2="2001.1" stroke="#000" stroke-width="4.8" stroke-linecap="round"/>
<line x1="393.7" y1="2116.7" x2="646" y2="2116.7" stroke="#000" stroke-width="4.8"/>
<line x1="446.7" y1="2116.7" x2="446.7" y2="2136.2" stroke="#000" stroke-width="4.5"/>
<text x="0" y="0" font-size="32.2" text-anchor="end" transform="translate(458,2144.3) rotate(-90)">XBB.1.5</text>
<line x1="501.9" y1="2116.7" x2="501.9" y2="2136.2" stroke="#000" stroke-width="4.5"/>
<text x="0" y="0" font-size="32.2" text-anchor="end" transform="translate(513.2,2144.3) rotate(-90)">XBB.1.16</text>
<line x1="556.8" y1="2116.7" x2="556.8" y2="2136.2" stroke="#000" stroke-width="4.5"/>
<text x="0" y="0" font-size="32.2" text-anchor="end" transform="translate(568.1,2144.3) rotate(-90)">EG.5.1</text>
<line x1="611.5" y1="2116.7" x2="611.5" y2="2136.2" stroke="#000" stroke-width="4.5"/>
<text x="0" y="0" font-size="32.2" text-anchor="end" transform="translate(622.8,2144.3) rotate(-90)">JN.1</text>
<line x1="446.7" y1="1856.6" x2="446.7" y2="1972.2" stroke="#000" stroke-width="2.5"/>
<line x1="434.8" y1="1856.6" x2="458.6" y2="1856.6" stroke="#000" stroke-width="2.5"/>
<line x1="434.8" y1="1972.2" x2="458.6" y2="1972.2" stroke="#000" stroke-width="2.5"/>
<line x1="501.9" y1="1798.8" x2="501.9" y2="1914.4" stroke="#000" stroke-width="2.5"/>
<line x1="490" y1="1798.8" x2="513.8" y2="1798.8" stroke="#000" stroke-width="2.5"/>
<line x1="490" y1="1914.4" x2="513.8" y2="1914.4" stroke="#000" stroke-width="2.5"/>
<polygon points="437.4,1885.5 442.05,1878 451.35,1878 456,1885.5 451.35,1893 442.05,1893" fill="#00813f" stroke="#000" stroke-width="2" stroke-linejoin="miter"/>
<polygon points="424.2,1885.5 428.85,1878 438.15,1878 442.8,1885.5 438.15,1893 428.85,1893" fill="#00813f" stroke="#000" stroke-width="2" stroke-linejoin="miter"/>
<polygon points="450.7,1885.5 455.35,1878 464.65,1878 469.3,1885.5 464.65,1893 455.35,1893" fill="#00813f" stroke="#000" stroke-width="2" stroke-linejoin="miter"/>
<polygon points="437.4,2001.1 442.05,1993.6 451.35,1993.6 456,2001.1 451.35,2008.6 442.05,2008.6" fill="#00813f" stroke="#000" stroke-width="2" stroke-linejoin="miter"/>
<polygon points="501.3,1760.15 511.05,1769.9 501.3,1779.65 491.55,1769.9" fill="#6f3189" stroke="#000" stroke-width="2" stroke-linejoin="miter"/>
<polygon points="488.1,1875.75 497.85,1885.5 488.1,1895.25 478.35,1885.5" fill="#6f3189" stroke="#000" stroke-width="2" stroke-linejoin="miter"/>
<polygon points="515,1875.75 524.75,1885.5 515,1895.25 505.25,1885.5" fill="#6f3189" stroke="#000" stroke-width="2" stroke-linejoin="miter"/>
<polygon points="501.3,1875.75 511.05,1885.5 501.3,1895.25 491.55,1885.5" fill="#6f3189" stroke="#000" stroke-width="2" stroke-linejoin="miter"/>
<polygon points="542.5,1876.42 552,1892.92 533,1892.92" fill="#7e85bf" stroke="#000" stroke-width="2" stroke-linejoin="miter"/>
<polygon points="552.4,1876.42 561.9,1892.92 542.9,1892.92" fill="#7e85bf" stroke="#000" stroke-width="2" stroke-linejoin="miter"/>
<polygon points="560.8,1876.42 570.3,1892.92 551.3,1892.92" fill="#7e85bf" stroke="#000" stroke-width="2" stroke-linejoin="miter"/>
<polygon points="568.9,1876.42 578.4,1892.92 559.4,1892.92" fill="#7e85bf" stroke="#000" stroke-width="2" stroke-linejoin="miter"/>
<rect x="589.55" y="1991.85" width="18.5" height="18.5" fill="#e8b4cf" stroke="#000" stroke-width="2"/>
<rect x="598.95" y="1991.85" width="18.5" height="18.5" fill="#e8b4cf" stroke="#000" stroke-width="2"/>
<rect x="615.75" y="1991.85" width="18.5" height="18.5" fill="#e8b4cf" stroke="#000" stroke-width="2"/>
<polyline points="501.3,1748.2 501.3,1735.5 611.9,1735.5 611.9,1979.1" fill="none" stroke="#2b2b2b" stroke-width="2.2" stroke-linejoin="miter"/>
<text x="556.5" y="1718.9" font-size="25.7" text-anchor="middle" fill="#2b2b2b">0.0120</text>
<text x="929.4" y="1531.2" font-size="31" text-anchor="middle" font-weight="bold">Type II pneumocyte</text>
<text x="928.5" y="1569.3" font-size="30.8" text-anchor="middle" font-weight="bold">hyperplasia</text>
<text font-size="33" text-anchor="middle" transform="translate(719,1888.6) rotate(-90) scale(0.905,1)">Score</text>
<rect x="806" y="1975.08" width="39" height="26.62" fill="#88b994" stroke="#000" stroke-width="4.5"/>
<rect x="916.4" y="1946.2" width="39" height="55.5" fill="#c1c2e0" stroke="#000" stroke-width="4.5"/>
<line x1="791.9" y1="1653.2" x2="791.9" y2="2119.1" stroke="#000" stroke-width="4.6"/>
<line x1="771.9" y1="1655.2" x2="791.9" y2="1655.2" stroke="#000" stroke-width="4.5"/>
<text x="765.9" y="1666.66" font-size="32" text-anchor="end">3</text>
<line x1="771.9" y1="1770.7" x2="791.9" y2="1770.7" stroke="#000" stroke-width="4.5"/>
<text x="765.9" y="1782.16" font-size="32" text-anchor="end">2</text>
<line x1="771.9" y1="1886.2" x2="791.9" y2="1886.2" stroke="#000" stroke-width="4.5"/>
<text x="765.9" y="1897.66" font-size="32" text-anchor="end">1</text>
<line x1="771.9" y1="2001.7" x2="791.9" y2="2001.7" stroke="#000" stroke-width="4.5"/>
<text x="765.9" y="2013.16" font-size="32" text-anchor="end">0</text>
<line x1="771.9" y1="2117.2" x2="791.9" y2="2117.2" stroke="#000" stroke-width="4.5"/>
<text x="765.9" y="2128.66" font-size="32" text-anchor="end">-1</text>
<line x1="771.9" y1="2001.7" x2="1022.9" y2="2001.7" stroke="#000" stroke-width="4.8" stroke-linecap="round"/>
<line x1="771.9" y1="2116.8" x2="1022.9" y2="2116.8" stroke="#000" stroke-width="4.8"/>
<line x1="825.5" y1="2116.8" x2="825.5" y2="2136.3" stroke="#000" stroke-width="4.5"/>
<text x="0" y="0" font-size="32.2" text-anchor="end" transform="translate(836.8,2144.3) rotate(-90)">XBB.1.5</text>
<line x1="880.6" y1="2116.8" x2="880.6" y2="2136.3" stroke="#000" stroke-width="4.5"/>
<text x="0" y="0" font-size="32.2" text-anchor="end" transform="translate(891.9,2144.3) rotate(-90)">XBB.1.16</text>
<line x1="935.9" y1="2116.8" x2="935.9" y2="2136.3" stroke="#000" stroke-width="4.5"/>
<text x="0" y="0" font-size="32.2" text-anchor="end" transform="translate(947.2,2144.3) rotate(-90)">EG.5.1</text>
<line x1="990.5" y1="2116.8" x2="990.5" y2="2136.3" stroke="#000" stroke-width="4.5"/>
<text x="0" y="0" font-size="32.2" text-anchor="end" transform="translate(1001.8,2144.3) rotate(-90)">JN.1</text>
<line x1="825.5" y1="1915.08" x2="825.5" y2="2030.58" stroke="#000" stroke-width="2.5"/>
<line x1="813.6" y1="1915.08" x2="837.4" y2="1915.08" stroke="#000" stroke-width="2.5"/>
<line x1="813.6" y1="2030.58" x2="837.4" y2="2030.58" stroke="#000" stroke-width="2.5"/>
<line x1="935.9" y1="1828.45" x2="935.9" y2="2059.45" stroke="#000" stroke-width="2.5"/>
<line x1="924" y1="1828.45" x2="947.8" y2="1828.45" stroke="#000" stroke-width="2.5"/>
<line x1="924" y1="2059.45" x2="947.8" y2="2059.45" stroke="#000" stroke-width="2.5"/>
<polygon points="815.7,1886.2 820.45,1878.7 829.95,1878.7 834.7,1886.2 829.95,1893.7 820.45,1893.7" fill="#00813f" stroke="#000" stroke-width="2" stroke-linejoin="miter"/>
<polygon points="802.6,2001.7 807.35,1994.2 816.85,1994.2 821.6,2001.7 816.85,2009.2 807.35,2009.2" fill="#00813f" stroke="#000" stroke-width="2" stroke-linejoin="miter"/>
<polygon points="815.7,2001.7 820.45,1994.2 829.95,1994.2 834.7,2001.7 829.95,2009.2 820.45,2009.2" fill="#00813f" stroke="#000" stroke-width="2" stroke-linejoin="miter"/>
<polygon points="828.8,2001.7 833.55,1994.2 843.05,1994.2 847.8,2001.7 843.05,2009.2 833.55,2009.2" fill="#00813f" stroke="#000" stroke-width="2" stroke-linejoin="miter"/>
<polygon points="868.1,1991.95 877.85,2001.7 868.1,2011.45 858.35,2001.7" fill="#6f3189" stroke="#000" stroke-width="2" stroke-linejoin="miter"/>
<polygon points="876.4,1991.95 886.15,2001.7 876.4,2011.45 866.65,2001.7" fill="#6f3189" stroke="#000" stroke-width="2" stroke-linejoin="miter"/>
<polygon points="884.8,1991.95 894.55,2001.7 884.8,2011.45 875.05,2001.7" fill="#6f3189" stroke="#000" stroke-width="2" stroke-linejoin="miter"/>
<polygon points="893.1,1991.95 902.85,2001.7 893.1,2011.45 883.35,2001.7" fill="#6f3189" stroke="#000" stroke-width="2" stroke-linejoin="miter"/>
<polygon points="935.2,1761.62 944.7,1778.12 925.7,1778.12" fill="#7e85bf" stroke="#000" stroke-width="2" stroke-linejoin="miter"/>
<polygon points="922.4,1992.62 931.9,2009.12 912.9,2009.12" fill="#7e85bf" stroke="#000" stroke-width="2" stroke-linejoin="miter"/>
<polygon points="935.2,1992.62 944.7,2009.12 925.7,2009.12" fill="#7e85bf" stroke="#000" stroke-width="2" stroke-linejoin="miter"/>
<polygon points="948.6,1992.62 958.1,2009.12 939.1,2009.12" fill="#7e85bf" stroke="#000" stroke-width="2" stroke-linejoin="miter"/>
<rect x="968.25" y="1992.45" width="18.5" height="18.5" fill="#e8b4cf" stroke="#000" stroke-width="2"/>
<rect x="981.25" y="1992.45" width="18.5" height="18.5" fill="#e8b4cf" stroke="#000" stroke-width="2"/>
<rect x="994.25" y="1992.45" width="18.5" height="18.5" fill="#e8b4cf" stroke="#000" stroke-width="2"/>
<text x="1267.1" y="1530.9" font-size="31" text-anchor="middle" font-weight="bold">Cumulative score</text>
<text font-size="33" text-anchor="middle" transform="translate(1087,1886) rotate(-90) scale(0.905,1)">Score</text>
<rect x="1164.7" y="1874.91" width="39" height="190.69" fill="#88b994" stroke="#000" stroke-width="4.5"/>
<rect x="1220.1" y="1746.29" width="39" height="319.31" fill="#ab8eba" stroke="#000" stroke-width="4.5"/>
<rect x="1275" y="1759.15" width="39" height="306.45" fill="#c1c2e0" stroke="#000" stroke-width="4.5"/>
<rect x="1330.4" y="2016.4" width="39" height="49.2" fill="#f3d9e7" stroke="#000" stroke-width="4.5"/>
<line x1="1184.2" y1="1795.49" x2="1184.2" y2="1949.84" stroke="#000" stroke-width="2.5"/>
<line x1="1172.3" y1="1795.49" x2="1196.1" y2="1795.49" stroke="#000" stroke-width="2.5"/>
<line x1="1172.3" y1="1949.84" x2="1196.1" y2="1949.84" stroke="#000" stroke-width="2.5"/>
<line x1="1239.6" y1="1718.31" x2="1239.6" y2="1769.76" stroke="#000" stroke-width="2.5"/>
<line x1="1227.7" y1="1718.31" x2="1251.5" y2="1718.31" stroke="#000" stroke-width="2.5"/>
<line x1="1227.7" y1="1769.76" x2="1251.5" y2="1769.76" stroke="#000" stroke-width="2.5"/>
<line x1="1294.5" y1="1714.71" x2="1294.5" y2="1799.09" stroke="#000" stroke-width="2.5"/>
<line x1="1282.6" y1="1714.71" x2="1306.4" y2="1714.71" stroke="#000" stroke-width="2.5"/>
<line x1="1282.6" y1="1799.09" x2="1306.4" y2="1799.09" stroke="#000" stroke-width="2.5"/>
<line x1="1349.9" y1="1954.98" x2="1349.9" y2="2073.32" stroke="#000" stroke-width="2.5"/>
<polygon points="1161.7,1809.89 1166.45,1802.39 1175.95,1802.39 1180.7,1809.89 1175.95,1817.39 1166.45,1817.39" fill="#00813f" stroke="#000" stroke-width="2" stroke-linejoin="miter"/>
<polygon points="1187.7,1809.89 1192.45,1802.39 1201.95,1802.39 1206.7,1809.89 1201.95,1817.39 1192.45,1817.39" fill="#00813f" stroke="#000" stroke-width="2" stroke-linejoin="miter"/>
<polygon points="1174.8,1911.25 1179.55,1903.75 1189.05,1903.75 1193.8,1911.25 1189.05,1918.75 1179.55,1918.75" fill="#00813f" stroke="#000" stroke-width="2" stroke-linejoin="miter"/>
<polygon points="1174.8,1962.7 1179.55,1955.2 1189.05,1955.2 1193.8,1962.7 1189.05,1970.2 1179.55,1970.2" fill="#00813f" stroke="#000" stroke-width="2" stroke-linejoin="miter"/>
<polygon points="1239,1695.7 1248.75,1705.45 1239,1715.2 1229.25,1705.45" fill="#6f3189" stroke="#000" stroke-width="2" stroke-linejoin="miter"/>
<polygon points="1226,1747.15 1235.75,1756.9 1226,1766.65 1216.25,1756.9" fill="#6f3189" stroke="#000" stroke-width="2" stroke-linejoin="miter"/>
<polygon points="1252.2,1747.15 1261.95,1756.9 1252.2,1766.65 1242.45,1756.9" fill="#6f3189" stroke="#000" stroke-width="2" stroke-linejoin="miter"/>
<polygon points="1239,1747.15 1248.75,1756.9 1239,1766.65 1229.25,1756.9" fill="#6f3189" stroke="#000" stroke-width="2" stroke-linejoin="miter"/>
<polygon points="1294.5,1696.37 1304,1712.87 1285,1712.87" fill="#7e85bf" stroke="#000" stroke-width="2" stroke-linejoin="miter"/>
<polygon points="1281.6,1747.82 1291.1,1764.32 1272.1,1764.32" fill="#7e85bf" stroke="#000" stroke-width="2" stroke-linejoin="miter"/>
<polygon points="1307.4,1747.82 1316.9,1764.32 1297.9,1764.32" fill="#7e85bf" stroke="#000" stroke-width="2" stroke-linejoin="miter"/>
<polygon points="1294.5,1799.27 1304,1815.77 1285,1815.77" fill="#7e85bf" stroke="#000" stroke-width="2" stroke-linejoin="miter"/>
<rect x="1327.55" y="1953.45" width="18.5" height="18.5" fill="#e8b4cf" stroke="#000" stroke-width="2"/>
<rect x="1353.05" y="1953.45" width="18.5" height="18.5" fill="#e8b4cf" stroke="#000" stroke-width="2"/>
<rect x="1327.55" y="2056.35" width="18.5" height="18.5" fill="#e8b4cf" stroke="#000" stroke-width="2"/>
<rect x="1353.05" y="2056.35" width="18.5" height="18.5" fill="#e8b4cf" stroke="#000" stroke-width="2"/>
<line x1="1150.8" y1="1652" x2="1150.8" y2="2119.2" stroke="#000" stroke-width="4.6"/>
<line x1="1132.8" y1="1654" x2="1150.8" y2="1654" stroke="#000" stroke-width="4.5"/>
<text x="1124.8" y="1665.46" font-size="32" text-anchor="end">8</text>
<line x1="1132.8" y1="1756.9" x2="1150.8" y2="1756.9" stroke="#000" stroke-width="4.5"/>
<text x="1124.8" y="1768.36" font-size="32" text-anchor="end">6</text>
<line x1="1132.8" y1="1859.8" x2="1150.8" y2="1859.8" stroke="#000" stroke-width="4.5"/>
<text x="1124.8" y="1871.26" font-size="32" text-anchor="end">4</text>
<line x1="1132.8" y1="1962.7" x2="1150.8" y2="1962.7" stroke="#000" stroke-width="4.5"/>
<text x="1124.8" y="1974.16" font-size="32" text-anchor="end">2</text>
<line x1="1132.8" y1="2065.6" x2="1150.8" y2="2065.6" stroke="#000" stroke-width="4.5"/>
<text x="1124.8" y="2077.06" font-size="32" text-anchor="end">0</text>
<line x1="1132.8" y1="2065.4" x2="1382.7" y2="2065.4" stroke="#000" stroke-width="4.8" stroke-linecap="round"/>
<line x1="1148.5" y1="2116.9" x2="1382.3" y2="2116.9" stroke="#000" stroke-width="4.8" stroke-linecap="round"/>
<line x1="1184.5" y1="2116.9" x2="1184.5" y2="2135" stroke="#000" stroke-width="4.5"/>
<text x="0" y="0" font-size="32.2" text-anchor="end" transform="translate(1195.8,2144.3) rotate(-90)">XBB.1.5</text>
<line x1="1238.6" y1="2116.9" x2="1238.6" y2="2135" stroke="#000" stroke-width="4.5"/>
<text x="0" y="0" font-size="32.2" text-anchor="end" transform="translate(1249.9,2144.3) rotate(-90)">XBB.1.16</text>
<line x1="1293.6" y1="2116.9" x2="1293.6" y2="2135" stroke="#000" stroke-width="4.5"/>
<text x="0" y="0" font-size="32.2" text-anchor="end" transform="translate(1304.9,2144.3) rotate(-90)">EG.5.1</text>
<line x1="1349.4" y1="2116.9" x2="1349.4" y2="2135" stroke="#000" stroke-width="4.5"/>
<text x="0" y="0" font-size="32.2" text-anchor="end" transform="translate(1360.7,2144.3) rotate(-90)">JN.1</text>
<polyline points="1239,1683.6 1239,1607.8 1349.9,1607.8 1349.9,1620.2" fill="none" stroke="#2b2b2b" stroke-width="2.2" stroke-linejoin="miter"/>
<text x="1293.9" y="1590.8" font-size="25.7" text-anchor="middle" fill="#2b2b2b">0.0126</text>
<polyline points="1294.5,1683.6 1294.5,1671.1 1349.4,1671.1 1349.4,1928.5" fill="none" stroke="#2b2b2b" stroke-width="2.2" stroke-linejoin="miter"/>
<text x="1321.6" y="1655.3" font-size="25.7" text-anchor="middle" fill="#2b2b2b">0.0334</text>
<text x="1631.5" y="1526.1" font-size="31.5" text-anchor="middle" font-weight="bold">IHC</text>
<text font-size="33" text-anchor="middle" transform="translate(1440,1888) rotate(-90) scale(0.905,1)">Score</text>
<rect x="1527.2" y="1934.25" width="39" height="90.35" fill="#83ae8c" stroke="#000" stroke-width="4.5"/>
<rect x="1582.4" y="1934.25" width="39" height="90.35" fill="#a389b6" stroke="#000" stroke-width="4.5"/>
<rect x="1637.9" y="1887.95" width="39" height="136.65" fill="#b3b5d6" stroke="#000" stroke-width="4.5"/>
<rect x="1692.9" y="1934.25" width="39" height="90.35" fill="#edccde" stroke="#000" stroke-width="4.5"/>
<line x1="1514.3" y1="1652.2" x2="1514.3" y2="2119.5" stroke="#000" stroke-width="4.6"/>
<line x1="1494.3" y1="1654.2" x2="1514.3" y2="1654.2" stroke="#000" stroke-width="4.5"/>
<text x="1488.3" y="1665.66" font-size="32" text-anchor="end">4</text>
<line x1="1494.3" y1="1746.8" x2="1514.3" y2="1746.8" stroke="#000" stroke-width="4.5"/>
<text x="1488.3" y="1758.26" font-size="32" text-anchor="end">3</text>
<line x1="1494.3" y1="1839.4" x2="1514.3" y2="1839.4" stroke="#000" stroke-width="4.5"/>
<text x="1488.3" y="1850.86" font-size="32" text-anchor="end">2</text>
<line x1="1494.3" y1="1932" x2="1514.3" y2="1932" stroke="#000" stroke-width="4.5"/>
<text x="1488.3" y="1943.46" font-size="32" text-anchor="end">1</text>
<line x1="1494.3" y1="2024.6" x2="1514.3" y2="2024.6" stroke="#000" stroke-width="4.5"/>
<text x="1488.3" y="2036.06" font-size="32" text-anchor="end">0</text>
<line x1="1494.3" y1="2117.2" x2="1514.3" y2="2117.2" stroke="#000" stroke-width="4.5"/>
<text x="1488.3" y="2128.66" font-size="32" text-anchor="end">-1</text>
<line x1="1494.3" y1="2024.6" x2="1749" y2="2024.6" stroke="#000" stroke-width="4.8" stroke-linecap="round"/>
<line x1="1494.3" y1="2117.2" x2="1749" y2="2117.2" stroke="#000" stroke-width="4.8"/>
<line x1="1547.2" y1="2117.2" x2="1547.2" y2="2136.7" stroke="#000" stroke-width="4.5"/>
<text x="0" y="0" font-size="32.2" text-anchor="end" transform="translate(1558.5,2144.3) rotate(-90)">XBB.1.5</text>
<line x1="1602.1" y1="2117.2" x2="1602.1" y2="2136.7" stroke="#000" stroke-width="4.5"/>
<text x="0" y="0" font-size="32.2" text-anchor="end" transform="translate(1613.4,2144.3) rotate(-90)">XBB.1.16</text>
<line x1="1657.1" y1="2117.2" x2="1657.1" y2="2136.7" stroke="#000" stroke-width="4.5"/>
<text x="0" y="0" font-size="32.2" text-anchor="end" transform="translate(1668.4,2144.3) rotate(-90)">EG.5.1</text>
<line x1="1712" y1="2117.2" x2="1712" y2="2136.7" stroke="#000" stroke-width="4.5"/>
<text x="0" y="0" font-size="32.2" text-anchor="end" transform="translate(1723.3,2144.3) rotate(-90)">JN.1</text>
<line x1="1657.4" y1="1793.1" x2="1657.4" y2="1978.3" stroke="#000" stroke-width="2.5"/>
<line x1="1645.5" y1="1793.1" x2="1669.3" y2="1793.1" stroke="#000" stroke-width="2.5"/>
<line x1="1645.5" y1="1978.3" x2="1669.3" y2="1978.3" stroke="#000" stroke-width="2.5"/>
<polygon points="1533.4,1932 1537.95,1924.5 1547.05,1924.5 1551.6,1932 1547.05,1939.5 1537.95,1939.5" fill="#00813f" stroke="#000" stroke-width="2" stroke-linejoin="miter"/>
<polygon points="1524.6,1932 1529.15,1924.5 1538.25,1924.5 1542.8,1932 1538.25,1939.5 1529.15,1939.5" fill="#00813f" stroke="#000" stroke-width="2" stroke-linejoin="miter"/>
<polygon points="1542.3,1932 1546.85,1924.5 1555.95,1924.5 1560.5,1932 1555.95,1939.5 1546.85,1939.5" fill="#00813f" stroke="#000" stroke-width="2" stroke-linejoin="miter"/>
<polygon points="1551.2,1932 1555.75,1924.5 1564.85,1924.5 1569.4,1932 1564.85,1939.5 1555.75,1939.5" fill="#00813f" stroke="#000" stroke-width="2" stroke-linejoin="miter"/>
<polygon points="1597.9,1922.25 1607.65,1932 1597.9,1941.75 1588.15,1932" fill="#6f3189" stroke="#000" stroke-width="2" stroke-linejoin="miter"/>
<polygon points="1589.3,1922.25 1599.05,1932 1589.3,1941.75 1579.55,1932" fill="#6f3189" stroke="#000" stroke-width="2" stroke-linejoin="miter"/>
<polygon points="1606.5,1922.25 1616.25,1932 1606.5,1941.75 1596.75,1932" fill="#6f3189" stroke="#000" stroke-width="2" stroke-linejoin="miter"/>
<polygon points="1615,1922.25 1624.75,1932 1615,1941.75 1605.25,1932" fill="#6f3189" stroke="#000" stroke-width="2" stroke-linejoin="miter"/>
<polygon points="1645,1922.92 1654.5,1939.42 1635.5,1939.42" fill="#7e85bf" stroke="#000" stroke-width="2" stroke-linejoin="miter"/>
<polygon points="1657.4,1922.92 1666.9,1939.42 1647.9,1939.42" fill="#7e85bf" stroke="#000" stroke-width="2" stroke-linejoin="miter"/>
<polygon points="1669.6,1922.92 1679.1,1939.42 1660.1,1939.42" fill="#7e85bf" stroke="#000" stroke-width="2" stroke-linejoin="miter"/>
<polygon points="1657.4,1737.72 1666.9,1754.22 1647.9,1754.22" fill="#7e85bf" stroke="#000" stroke-width="2" stroke-linejoin="miter"/>
<rect x="1690.25" y="1922.75" width="18.5" height="18.5" fill="#e8b4cf" stroke="#000" stroke-width="2"/>
<rect x="1698.95" y="1922.75" width="18.5" height="18.5" fill="#e8b4cf" stroke="#000" stroke-width="2"/>
<rect x="1706.75" y="1922.75" width="18.5" height="18.5" fill="#e8b4cf" stroke="#000" stroke-width="2"/>
<rect x="1716.25" y="1922.75" width="18.5" height="18.5" fill="#e8b4cf" stroke="#000" stroke-width="2"/>
</svg>
</body></html>
